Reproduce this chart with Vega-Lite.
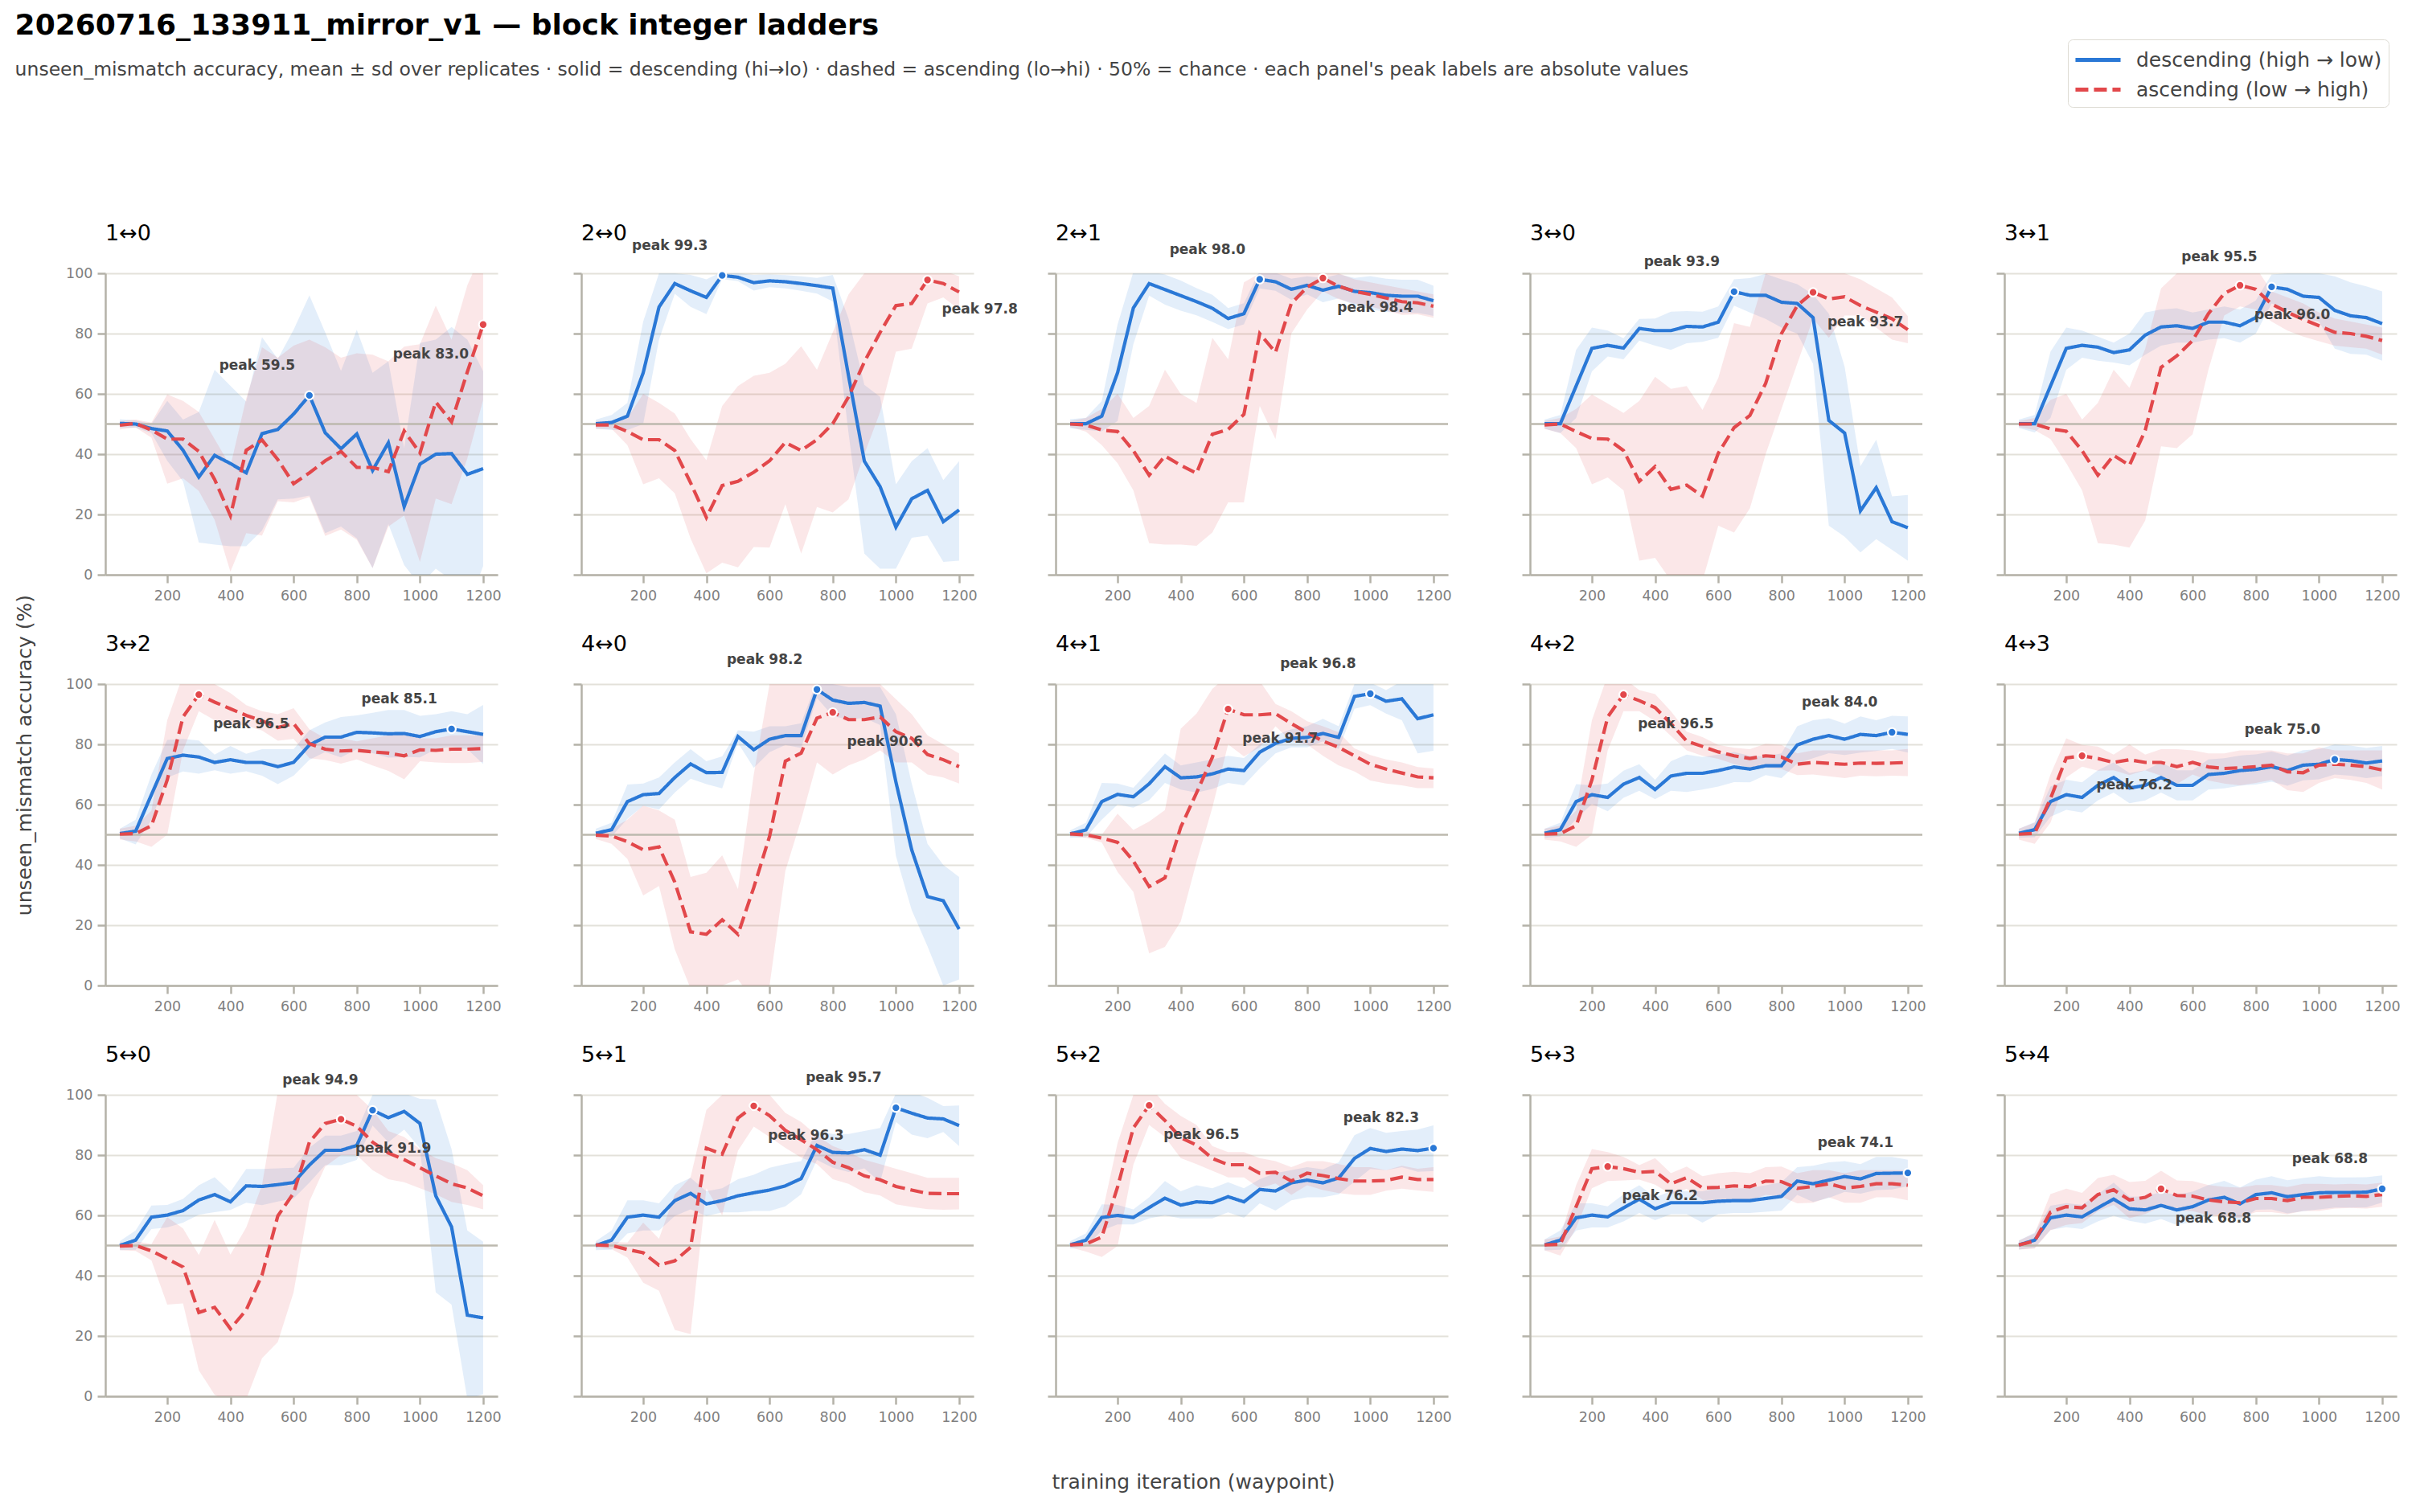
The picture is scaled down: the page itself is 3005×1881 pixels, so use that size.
{
  "$schema": "https://vega.github.io/schema/vega-lite/v6.json",
  "background": "white",
  "padding": {"left": 18, "top": 14, "right": 12, "bottom": 8},
  "title": {
    "text": "20260716_133911_mirror_v1 — block integer ladders",
    "subtitle": "unseen_mismatch accuracy, mean ± sd over replicates · solid = descending (hi→lo) · dashed = ascending (lo→hi) · 50% = chance · each panel's peak labels are absolute values",
    "anchor": "start",
    "frame": "bounds",
    "font": "DejaVu Sans",
    "fontSize": 36,
    "fontWeight": "bold",
    "color": "black",
    "subtitleFont": "DejaVu Sans",
    "subtitleFontSize": 23.5,
    "subtitleColor": "#444444",
    "subtitlePadding": 24,
    "offset": -51
  },
  "data": {
    "values": [
      {"p":"1↔0","d":"desc","x":50,"m":50.2,"lo":48.8,"hi":51.6},
      {"p":"1↔0","d":"desc","x":100,"m":50.0,"lo":48.8,"hi":51.2},
      {"p":"1↔0","d":"desc","x":150,"m":48.5,"lo":47.0,"hi":50.0},
      {"p":"1↔0","d":"desc","x":200,"m":47.7,"lo":37.8,"hi":57.7},
      {"p":"1↔0","d":"desc","x":250,"m":41.3,"lo":31.0,"hi":51.5},
      {"p":"1↔0","d":"desc","x":300,"m":32.4,"lo":10.7,"hi":54.0},
      {"p":"1↔0","d":"desc","x":350,"m":39.6,"lo":10.0,"hi":68.0},
      {"p":"1↔0","d":"desc","x":400,"m":36.9,"lo":9.5,"hi":62.7},
      {"p":"1↔0","d":"desc","x":450,"m":33.8,"lo":9.5,"hi":57.5},
      {"p":"1↔0","d":"desc","x":500,"m":46.8,"lo":14.7,"hi":78.8},
      {"p":"1↔0","d":"desc","x":550,"m":48.2,"lo":25.0,"hi":71.6},
      {"p":"1↔0","d":"desc","x":600,"m":53.3,"lo":25.3,"hi":81.3},
      {"p":"1↔0","d":"desc","x":650,"m":59.5,"lo":26.3,"hi":92.7},
      {"p":"1↔0","d":"desc","x":700,"m":47.1,"lo":13.8,"hi":80.4},
      {"p":"1↔0","d":"desc","x":750,"m":41.8,"lo":16.0,"hi":67.6},
      {"p":"1↔0","d":"desc","x":800,"m":46.7,"lo":12.1,"hi":81.3},
      {"p":"1↔0","d":"desc","x":850,"m":34.6,"lo":2.2,"hi":67.0},
      {"p":"1↔0","d":"desc","x":900,"m":43.8,"lo":16.8,"hi":70.8},
      {"p":"1↔0","d":"desc","x":950,"m":22.6,"lo":3.2,"hi":42.0},
      {"p":"1↔0","d":"desc","x":1000,"m":36.7,"lo":-3.5,"hi":76.9},
      {"p":"1↔0","d":"desc","x":1050,"m":40.0,"lo":2.0,"hi":78.0},
      {"p":"1↔0","d":"desc","x":1100,"m":40.2,"lo":-1.8,"hi":82.2},
      {"p":"1↔0","d":"desc","x":1150,"m":33.3,"lo":-11.4,"hi":78.0},
      {"p":"1↔0","d":"desc","x":1200,"m":35.2,"lo":2.9,"hi":67.5},
      {"p":"1↔0","d":"asc","x":50,"m":49.6,"lo":48.2,"hi":51.0},
      {"p":"1↔0","d":"asc","x":100,"m":50.2,"lo":48.9,"hi":51.5},
      {"p":"1↔0","d":"asc","x":150,"m":48.0,"lo":45.5,"hi":50.5},
      {"p":"1↔0","d":"asc","x":200,"m":45.0,"lo":30.2,"hi":59.8},
      {"p":"1↔0","d":"asc","x":250,"m":45.0,"lo":32.0,"hi":57.7},
      {"p":"1↔0","d":"asc","x":300,"m":40.9,"lo":27.8,"hi":54.0},
      {"p":"1↔0","d":"asc","x":350,"m":31.6,"lo":18.2,"hi":45.0},
      {"p":"1↔0","d":"asc","x":400,"m":19.6,"lo":1.0,"hi":36.0},
      {"p":"1↔0","d":"asc","x":450,"m":41.3,"lo":13.8,"hi":58.5},
      {"p":"1↔0","d":"asc","x":500,"m":44.7,"lo":13.0,"hi":75.5},
      {"p":"1↔0","d":"asc","x":550,"m":38.2,"lo":24.4,"hi":72.0},
      {"p":"1↔0","d":"asc","x":600,"m":30.2,"lo":24.0,"hi":76.0},
      {"p":"1↔0","d":"asc","x":650,"m":33.8,"lo":25.8,"hi":78.0},
      {"p":"1↔0","d":"asc","x":700,"m":37.8,"lo":12.9,"hi":75.5},
      {"p":"1↔0","d":"asc","x":750,"m":40.9,"lo":15.0,"hi":72.0},
      {"p":"1↔0","d":"asc","x":800,"m":35.6,"lo":11.6,"hi":73.5},
      {"p":"1↔0","d":"asc","x":850,"m":35.6,"lo":2.2,"hi":73.0},
      {"p":"1↔0","d":"asc","x":900,"m":34.2,"lo":16.0,"hi":70.8},
      {"p":"1↔0","d":"asc","x":950,"m":47.7,"lo":19.7,"hi":75.7},
      {"p":"1↔0","d":"asc","x":1000,"m":40.4,"lo":4.3,"hi":76.5},
      {"p":"1↔0","d":"asc","x":1050,"m":57.3,"lo":25.3,"hi":89.3},
      {"p":"1↔0","d":"asc","x":1100,"m":50.7,"lo":23.4,"hi":78.0},
      {"p":"1↔0","d":"asc","x":1150,"m":67.3,"lo":38.6,"hi":96.0},
      {"p":"1↔0","d":"asc","x":1200,"m":83.0,"lo":58.0,"hi":108.0},

      {"p":"2↔0","d":"desc","x":50,"m":50.1,"lo":48.5,"hi":51.5},
      {"p":"2↔0","d":"desc","x":100,"m":50.5,"lo":48.0,"hi":53.0},
      {"p":"2↔0","d":"desc","x":150,"m":52.6,"lo":48.0,"hi":57.0},
      {"p":"2↔0","d":"desc","x":200,"m":67.0,"lo":50.0,"hi":84.0},
      {"p":"2↔0","d":"desc","x":250,"m":88.8,"lo":78.0,"hi":100.0},
      {"p":"2↔0","d":"desc","x":300,"m":96.6,"lo":93.2,"hi":100.0},
      {"p":"2↔0","d":"desc","x":350,"m":94.2,"lo":88.9,"hi":99.5},
      {"p":"2↔0","d":"desc","x":400,"m":92.0,"lo":86.5,"hi":98.0},
      {"p":"2↔0","d":"desc","x":450,"m":99.3,"lo":98.1,"hi":100.5},
      {"p":"2↔0","d":"desc","x":500,"m":98.7,"lo":97.4,"hi":100.0},
      {"p":"2↔0","d":"desc","x":550,"m":96.9,"lo":94.3,"hi":99.5},
      {"p":"2↔0","d":"desc","x":600,"m":97.5,"lo":95.4,"hi":99.6},
      {"p":"2↔0","d":"desc","x":650,"m":97.2,"lo":95.0,"hi":99.4},
      {"p":"2↔0","d":"desc","x":700,"m":96.6,"lo":94.2,"hi":99.0},
      {"p":"2↔0","d":"desc","x":750,"m":95.9,"lo":93.3,"hi":98.5},
      {"p":"2↔0","d":"desc","x":800,"m":95.1,"lo":90.7,"hi":99.5},
      {"p":"2↔0","d":"desc","x":850,"m":66.0,"lo":47.0,"hi":85.0},
      {"p":"2↔0","d":"desc","x":900,"m":37.7,"lo":7.0,"hi":63.0},
      {"p":"2↔0","d":"desc","x":950,"m":29.2,"lo":2.0,"hi":59.0},
      {"p":"2↔0","d":"desc","x":1000,"m":15.8,"lo":2.0,"hi":30.0},
      {"p":"2↔0","d":"desc","x":1050,"m":25.2,"lo":12.3,"hi":37.7},
      {"p":"2↔0","d":"desc","x":1100,"m":28.0,"lo":13.0,"hi":42.0},
      {"p":"2↔0","d":"desc","x":1150,"m":17.6,"lo":4.3,"hi":31.4},
      {"p":"2↔0","d":"desc","x":1200,"m":21.5,"lo":4.7,"hi":37.7},
      {"p":"2↔0","d":"asc","x":50,"m":49.7,"lo":48.4,"hi":51.0},
      {"p":"2↔0","d":"asc","x":100,"m":49.7,"lo":48.4,"hi":51.0},
      {"p":"2↔0","d":"asc","x":150,"m":47.5,"lo":43.0,"hi":52.0},
      {"p":"2↔0","d":"asc","x":200,"m":44.8,"lo":30.0,"hi":60.0},
      {"p":"2↔0","d":"asc","x":250,"m":44.8,"lo":32.0,"hi":57.0},
      {"p":"2↔0","d":"asc","x":300,"m":41.2,"lo":27.0,"hi":53.5},
      {"p":"2↔0","d":"asc","x":350,"m":30.5,"lo":12.0,"hi":45.0},
      {"p":"2↔0","d":"asc","x":400,"m":19.0,"lo":0.5,"hi":38.0},
      {"p":"2↔0","d":"asc","x":450,"m":29.6,"lo":4.0,"hi":56.0},
      {"p":"2↔0","d":"asc","x":500,"m":31.0,"lo":2.5,"hi":62.6},
      {"p":"2↔0","d":"asc","x":550,"m":34.0,"lo":9.2,"hi":66.0},
      {"p":"2↔0","d":"asc","x":600,"m":37.8,"lo":9.0,"hi":67.0},
      {"p":"2↔0","d":"asc","x":650,"m":43.9,"lo":23.4,"hi":70.0},
      {"p":"2↔0","d":"asc","x":700,"m":41.2,"lo":7.0,"hi":75.8},
      {"p":"2↔0","d":"asc","x":750,"m":44.8,"lo":22.5,"hi":68.0},
      {"p":"2↔0","d":"asc","x":800,"m":50.1,"lo":20.7,"hi":80.4},
      {"p":"2↔0","d":"asc","x":850,"m":59.0,"lo":25.0,"hi":93.0},
      {"p":"2↔0","d":"asc","x":900,"m":70.6,"lo":40.0,"hi":100.0},
      {"p":"2↔0","d":"asc","x":950,"m":80.4,"lo":54.0,"hi":104.0},
      {"p":"2↔0","d":"asc","x":1000,"m":89.3,"lo":74.0,"hi":104.0},
      {"p":"2↔0","d":"asc","x":1050,"m":90.0,"lo":75.0,"hi":104.0},
      {"p":"2↔0","d":"asc","x":1100,"m":97.8,"lo":90.0,"hi":103.0},
      {"p":"2↔0","d":"asc","x":1150,"m":96.6,"lo":92.0,"hi":101.0},
      {"p":"2↔0","d":"asc","x":1200,"m":93.8,"lo":88.0,"hi":99.0},

      {"p":"2↔1","d":"desc","x":50,"m":50.1,"lo":48.6,"hi":51.6},
      {"p":"2↔1","d":"desc","x":100,"m":50.1,"lo":48.1,"hi":52.1},
      {"p":"2↔1","d":"desc","x":150,"m":52.6,"lo":47.6,"hi":57.6},
      {"p":"2↔1","d":"desc","x":200,"m":67.0,"lo":51.0,"hi":83.0},
      {"p":"2↔1","d":"desc","x":250,"m":88.5,"lo":76.5,"hi":100.5},
      {"p":"2↔1","d":"desc","x":300,"m":96.6,"lo":92.6,"hi":100.6},
      {"p":"2↔1","d":"desc","x":350,"m":94.6,"lo":89.6,"hi":99.6},
      {"p":"2↔1","d":"desc","x":400,"m":92.6,"lo":87.6,"hi":97.6},
      {"p":"2↔1","d":"desc","x":450,"m":90.6,"lo":86.1,"hi":95.1},
      {"p":"2↔1","d":"desc","x":500,"m":88.4,"lo":83.9,"hi":92.9},
      {"p":"2↔1","d":"desc","x":550,"m":85.0,"lo":81.5,"hi":88.5},
      {"p":"2↔1","d":"desc","x":600,"m":86.6,"lo":83.1,"hi":90.1},
      {"p":"2↔1","d":"desc","x":650,"m":98.0,"lo":95.0,"hi":101.0},
      {"p":"2↔1","d":"desc","x":700,"m":97.2,"lo":94.2,"hi":100.2},
      {"p":"2↔1","d":"desc","x":750,"m":94.7,"lo":91.2,"hi":98.2},
      {"p":"2↔1","d":"desc","x":800,"m":96.0,"lo":93.0,"hi":99.0},
      {"p":"2↔1","d":"desc","x":850,"m":94.4,"lo":90.4,"hi":98.4},
      {"p":"2↔1","d":"desc","x":900,"m":95.7,"lo":91.7,"hi":99.7},
      {"p":"2↔1","d":"desc","x":950,"m":94.0,"lo":89.5,"hi":98.5},
      {"p":"2↔1","d":"desc","x":1000,"m":93.6,"lo":88.1,"hi":99.1},
      {"p":"2↔1","d":"desc","x":1050,"m":92.7,"lo":87.2,"hi":98.2},
      {"p":"2↔1","d":"desc","x":1100,"m":92.4,"lo":86.9,"hi":97.9},
      {"p":"2↔1","d":"desc","x":1150,"m":92.4,"lo":86.9,"hi":97.9},
      {"p":"2↔1","d":"desc","x":1200,"m":90.9,"lo":85.9,"hi":95.9},
      {"p":"2↔1","d":"asc","x":50,"m":50.0,"lo":49.0,"hi":51.0},
      {"p":"2↔1","d":"asc","x":100,"m":49.7,"lo":47.5,"hi":52.0},
      {"p":"2↔1","d":"asc","x":150,"m":48.0,"lo":43.0,"hi":55.0},
      {"p":"2↔1","d":"asc","x":200,"m":47.5,"lo":37.0,"hi":60.0},
      {"p":"2↔1","d":"asc","x":250,"m":41.2,"lo":28.0,"hi":52.0},
      {"p":"2↔1","d":"asc","x":300,"m":33.0,"lo":10.5,"hi":56.0},
      {"p":"2↔1","d":"asc","x":350,"m":39.4,"lo":10.0,"hi":68.0},
      {"p":"2↔1","d":"asc","x":400,"m":36.3,"lo":10.0,"hi":60.0},
      {"p":"2↔1","d":"asc","x":450,"m":33.7,"lo":9.6,"hi":57.0},
      {"p":"2↔1","d":"asc","x":500,"m":46.6,"lo":14.0,"hi":78.6},
      {"p":"2↔1","d":"asc","x":550,"m":48.2,"lo":24.0,"hi":71.5},
      {"p":"2↔1","d":"asc","x":600,"m":53.2,"lo":24.0,"hi":97.0},
      {"p":"2↔1","d":"asc","x":650,"m":80.0,"lo":56.0,"hi":100.0},
      {"p":"2↔1","d":"asc","x":700,"m":73.8,"lo":45.0,"hi":100.0},
      {"p":"2↔1","d":"asc","x":750,"m":90.0,"lo":80.0,"hi":100.0},
      {"p":"2↔1","d":"asc","x":800,"m":95.4,"lo":88.0,"hi":100.0},
      {"p":"2↔1","d":"asc","x":850,"m":98.4,"lo":94.0,"hi":102.0},
      {"p":"2↔1","d":"asc","x":900,"m":95.7,"lo":91.4,"hi":100.0},
      {"p":"2↔1","d":"asc","x":950,"m":94.0,"lo":90.0,"hi":98.0},
      {"p":"2↔1","d":"asc","x":1000,"m":93.0,"lo":89.0,"hi":97.0},
      {"p":"2↔1","d":"asc","x":1050,"m":91.8,"lo":87.6,"hi":96.0},
      {"p":"2↔1","d":"asc","x":1100,"m":90.6,"lo":86.2,"hi":95.0},
      {"p":"2↔1","d":"asc","x":1150,"m":90.2,"lo":86.4,"hi":94.0},
      {"p":"2↔1","d":"asc","x":1200,"m":89.1,"lo":85.2,"hi":93.0},

      {"p":"3↔0","d":"desc","x":50,"m":50.1,"lo":48.5,"hi":51.5},
      {"p":"3↔0","d":"desc","x":100,"m":50.1,"lo":47.0,"hi":53.0},
      {"p":"3↔0","d":"desc","x":150,"m":62.6,"lo":52.0,"hi":74.6},
      {"p":"3↔0","d":"desc","x":200,"m":75.1,"lo":67.5,"hi":82.0},
      {"p":"3↔0","d":"desc","x":250,"m":76.1,"lo":72.4,"hi":81.0},
      {"p":"3↔0","d":"desc","x":300,"m":75.2,"lo":71.5,"hi":78.5},
      {"p":"3↔0","d":"desc","x":350,"m":81.7,"lo":77.7,"hi":84.9},
      {"p":"3↔0","d":"desc","x":400,"m":81.0,"lo":76.0,"hi":85.0},
      {"p":"3↔0","d":"desc","x":450,"m":81.0,"lo":74.6,"hi":87.3},
      {"p":"3↔0","d":"desc","x":500,"m":82.4,"lo":76.8,"hi":87.5},
      {"p":"3↔0","d":"desc","x":550,"m":82.2,"lo":77.3,"hi":87.3},
      {"p":"3↔0","d":"desc","x":600,"m":83.8,"lo":78.6,"hi":89.0},
      {"p":"3↔0","d":"desc","x":650,"m":93.9,"lo":89.3,"hi":98.0},
      {"p":"3↔0","d":"desc","x":700,"m":92.7,"lo":87.0,"hi":98.4},
      {"p":"3↔0","d":"desc","x":750,"m":92.7,"lo":84.9,"hi":99.8},
      {"p":"3↔0","d":"desc","x":800,"m":90.4,"lo":82.0,"hi":98.0},
      {"p":"3↔0","d":"desc","x":850,"m":90.0,"lo":80.0,"hi":96.4},
      {"p":"3↔0","d":"desc","x":900,"m":85.3,"lo":70.0,"hi":93.0},
      {"p":"3↔0","d":"desc","x":950,"m":51.2,"lo":16.3,"hi":86.6},
      {"p":"3↔0","d":"desc","x":1000,"m":47.0,"lo":12.6,"hi":69.0},
      {"p":"3↔0","d":"desc","x":1050,"m":21.2,"lo":7.4,"hi":36.0},
      {"p":"3↔0","d":"desc","x":1100,"m":28.9,"lo":11.8,"hi":44.8},
      {"p":"3↔0","d":"desc","x":1150,"m":17.6,"lo":8.3,"hi":26.0},
      {"p":"3↔0","d":"desc","x":1200,"m":15.6,"lo":4.7,"hi":26.5},
      {"p":"3↔0","d":"asc","x":50,"m":49.7,"lo":48.4,"hi":51.0},
      {"p":"3↔0","d":"asc","x":100,"m":50.0,"lo":47.0,"hi":52.0},
      {"p":"3↔0","d":"asc","x":150,"m":47.5,"lo":42.0,"hi":55.0},
      {"p":"3↔0","d":"asc","x":200,"m":45.2,"lo":30.0,"hi":59.8},
      {"p":"3↔0","d":"asc","x":250,"m":45.0,"lo":32.3,"hi":56.8},
      {"p":"3↔0","d":"asc","x":300,"m":41.2,"lo":28.0,"hi":53.7},
      {"p":"3↔0","d":"asc","x":350,"m":31.0,"lo":4.7,"hi":57.7},
      {"p":"3↔0","d":"asc","x":400,"m":35.9,"lo":5.6,"hi":65.7},
      {"p":"3↔0","d":"asc","x":450,"m":28.3,"lo":-2.0,"hi":61.7},
      {"p":"3↔0","d":"asc","x":500,"m":29.7,"lo":-2.0,"hi":62.6},
      {"p":"3↔0","d":"asc","x":550,"m":26.1,"lo":-2.0,"hi":54.7},
      {"p":"3↔0","d":"asc","x":600,"m":40.3,"lo":16.3,"hi":65.3},
      {"p":"3↔0","d":"asc","x":650,"m":48.8,"lo":14.0,"hi":83.5},
      {"p":"3↔0","d":"asc","x":700,"m":52.8,"lo":22.0,"hi":82.2},
      {"p":"3↔0","d":"asc","x":750,"m":63.5,"lo":40.0,"hi":100.0},
      {"p":"3↔0","d":"asc","x":800,"m":80.0,"lo":55.0,"hi":104.0},
      {"p":"3↔0","d":"asc","x":850,"m":89.3,"lo":70.0,"hi":104.0},
      {"p":"3↔0","d":"asc","x":900,"m":93.7,"lo":85.0,"hi":104.0},
      {"p":"3↔0","d":"asc","x":950,"m":91.5,"lo":78.6,"hi":104.0},
      {"p":"3↔0","d":"asc","x":1000,"m":92.2,"lo":86.0,"hi":100.0},
      {"p":"3↔0","d":"asc","x":1050,"m":89.3,"lo":86.0,"hi":98.0},
      {"p":"3↔0","d":"asc","x":1100,"m":87.1,"lo":82.0,"hi":95.0},
      {"p":"3↔0","d":"asc","x":1150,"m":84.9,"lo":78.0,"hi":92.0},
      {"p":"3↔0","d":"asc","x":1200,"m":81.3,"lo":76.8,"hi":85.8},

      {"p":"3↔1","d":"desc","x":50,"m":50.1,"lo":48.7,"hi":51.5},
      {"p":"3↔1","d":"desc","x":100,"m":50.1,"lo":47.2,"hi":53.0},
      {"p":"3↔1","d":"desc","x":150,"m":62.6,"lo":52.0,"hi":74.0},
      {"p":"3↔1","d":"desc","x":200,"m":75.1,"lo":68.0,"hi":82.0},
      {"p":"3↔1","d":"desc","x":250,"m":76.1,"lo":72.0,"hi":81.0},
      {"p":"3↔1","d":"desc","x":300,"m":75.5,"lo":71.0,"hi":79.0},
      {"p":"3↔1","d":"desc","x":350,"m":73.7,"lo":70.4,"hi":77.0},
      {"p":"3↔1","d":"desc","x":400,"m":74.6,"lo":69.5,"hi":80.0},
      {"p":"3↔1","d":"desc","x":450,"m":79.5,"lo":73.0,"hi":87.0},
      {"p":"3↔1","d":"desc","x":500,"m":82.2,"lo":76.0,"hi":88.0},
      {"p":"3↔1","d":"desc","x":550,"m":82.6,"lo":77.0,"hi":88.4},
      {"p":"3↔1","d":"desc","x":600,"m":81.7,"lo":77.0,"hi":87.0},
      {"p":"3↔1","d":"desc","x":650,"m":83.8,"lo":78.0,"hi":88.0},
      {"p":"3↔1","d":"desc","x":700,"m":83.8,"lo":78.5,"hi":89.0},
      {"p":"3↔1","d":"desc","x":750,"m":82.6,"lo":77.0,"hi":88.0},
      {"p":"3↔1","d":"desc","x":800,"m":85.3,"lo":80.0,"hi":91.0},
      {"p":"3↔1","d":"desc","x":850,"m":95.5,"lo":90.0,"hi":99.6},
      {"p":"3↔1","d":"desc","x":900,"m":94.7,"lo":88.0,"hi":100.0},
      {"p":"3↔1","d":"desc","x":950,"m":92.4,"lo":85.0,"hi":100.0},
      {"p":"3↔1","d":"desc","x":1000,"m":92.0,"lo":84.0,"hi":100.0},
      {"p":"3↔1","d":"desc","x":1050,"m":87.7,"lo":75.0,"hi":99.0},
      {"p":"3↔1","d":"desc","x":1100,"m":85.9,"lo":73.3,"hi":97.0},
      {"p":"3↔1","d":"desc","x":1150,"m":85.3,"lo":73.0,"hi":95.7},
      {"p":"3↔1","d":"desc","x":1200,"m":83.3,"lo":71.0,"hi":94.0},
      {"p":"3↔1","d":"asc","x":50,"m":50.0,"lo":49.0,"hi":51.0},
      {"p":"3↔1","d":"asc","x":100,"m":50.0,"lo":48.0,"hi":52.0},
      {"p":"3↔1","d":"asc","x":150,"m":48.4,"lo":45.0,"hi":58.0},
      {"p":"3↔1","d":"asc","x":200,"m":47.6,"lo":37.0,"hi":60.0},
      {"p":"3↔1","d":"asc","x":250,"m":41.2,"lo":28.0,"hi":51.5},
      {"p":"3↔1","d":"asc","x":300,"m":33.0,"lo":10.5,"hi":57.0},
      {"p":"3↔1","d":"asc","x":350,"m":39.6,"lo":10.0,"hi":68.0},
      {"p":"3↔1","d":"asc","x":400,"m":36.3,"lo":9.0,"hi":62.0},
      {"p":"3↔1","d":"asc","x":450,"m":47.9,"lo":18.0,"hi":75.0},
      {"p":"3↔1","d":"asc","x":500,"m":68.8,"lo":42.6,"hi":95.0},
      {"p":"3↔1","d":"asc","x":550,"m":72.6,"lo":42.0,"hi":100.0},
      {"p":"3↔1","d":"asc","x":600,"m":77.7,"lo":46.6,"hi":104.0},
      {"p":"3↔1","d":"asc","x":650,"m":86.6,"lo":68.0,"hi":104.0},
      {"p":"3↔1","d":"asc","x":700,"m":93.3,"lo":86.0,"hi":104.0},
      {"p":"3↔1","d":"asc","x":750,"m":96.0,"lo":89.0,"hi":104.0},
      {"p":"3↔1","d":"asc","x":800,"m":94.7,"lo":88.0,"hi":102.0},
      {"p":"3↔1","d":"asc","x":850,"m":89.8,"lo":84.0,"hi":94.0},
      {"p":"3↔1","d":"asc","x":900,"m":87.1,"lo":81.0,"hi":92.0},
      {"p":"3↔1","d":"asc","x":950,"m":84.7,"lo":79.0,"hi":90.0},
      {"p":"3↔1","d":"asc","x":1000,"m":82.6,"lo":77.5,"hi":87.0},
      {"p":"3↔1","d":"asc","x":1050,"m":80.4,"lo":76.0,"hi":85.0},
      {"p":"3↔1","d":"asc","x":1100,"m":80.0,"lo":75.5,"hi":84.0},
      {"p":"3↔1","d":"asc","x":1150,"m":79.1,"lo":75.0,"hi":83.0},
      {"p":"3↔1","d":"asc","x":1200,"m":77.7,"lo":73.0,"hi":82.0},

      {"p":"3↔2","d":"desc","x":50,"m":50.4,"lo":48.8,"hi":52.0},
      {"p":"3↔2","d":"desc","x":100,"m":51.2,"lo":46.8,"hi":55.0},
      {"p":"3↔2","d":"desc","x":150,"m":63.3,"lo":55.0,"hi":70.0},
      {"p":"3↔2","d":"desc","x":200,"m":75.3,"lo":69.0,"hi":81.5},
      {"p":"3↔2","d":"desc","x":250,"m":76.4,"lo":71.0,"hi":81.8},
      {"p":"3↔2","d":"desc","x":300,"m":75.8,"lo":70.3,"hi":81.3},
      {"p":"3↔2","d":"desc","x":350,"m":74.0,"lo":71.4,"hi":76.6},
      {"p":"3↔2","d":"desc","x":400,"m":74.9,"lo":70.3,"hi":79.5},
      {"p":"3↔2","d":"desc","x":450,"m":74.0,"lo":71.1,"hi":76.9},
      {"p":"3↔2","d":"desc","x":500,"m":74.0,"lo":69.6,"hi":78.4},
      {"p":"3↔2","d":"desc","x":550,"m":72.6,"lo":66.8,"hi":78.4},
      {"p":"3↔2","d":"desc","x":600,"m":74.0,"lo":69.6,"hi":78.4},
      {"p":"3↔2","d":"desc","x":650,"m":79.8,"lo":74.9,"hi":84.7},
      {"p":"3↔2","d":"desc","x":700,"m":82.4,"lo":77.5,"hi":87.3},
      {"p":"3↔2","d":"desc","x":750,"m":82.4,"lo":75.7,"hi":89.1},
      {"p":"3↔2","d":"desc","x":800,"m":84.0,"lo":78.4,"hi":89.6},
      {"p":"3↔2","d":"desc","x":850,"m":83.8,"lo":77.1,"hi":90.5},
      {"p":"3↔2","d":"desc","x":900,"m":83.5,"lo":75.6,"hi":91.4},
      {"p":"3↔2","d":"desc","x":950,"m":83.6,"lo":75.8,"hi":91.4},
      {"p":"3↔2","d":"desc","x":1000,"m":82.6,"lo":75.7,"hi":89.5},
      {"p":"3↔2","d":"desc","x":1050,"m":84.2,"lo":78.4,"hi":90.0},
      {"p":"3↔2","d":"desc","x":1100,"m":85.1,"lo":79.2,"hi":91.0},
      {"p":"3↔2","d":"desc","x":1150,"m":84.2,"lo":78.4,"hi":90.0},
      {"p":"3↔2","d":"desc","x":1200,"m":83.3,"lo":73.5,"hi":93.1},
      {"p":"3↔2","d":"asc","x":50,"m":50.2,"lo":48.4,"hi":52.0},
      {"p":"3↔2","d":"asc","x":100,"m":50.4,"lo":47.8,"hi":53.0},
      {"p":"3↔2","d":"asc","x":150,"m":53.0,"lo":46.0,"hi":58.0},
      {"p":"3↔2","d":"asc","x":200,"m":68.2,"lo":50.0,"hi":88.0},
      {"p":"3↔2","d":"asc","x":250,"m":89.1,"lo":78.0,"hi":103.0},
      {"p":"3↔2","d":"asc","x":300,"m":96.5,"lo":91.0,"hi":102.0},
      {"p":"3↔2","d":"asc","x":350,"m":94.0,"lo":88.0,"hi":100.0},
      {"p":"3↔2","d":"asc","x":400,"m":91.8,"lo":86.6,"hi":97.0},
      {"p":"3↔2","d":"asc","x":450,"m":89.6,"lo":86.2,"hi":93.0},
      {"p":"3↔2","d":"asc","x":500,"m":87.8,"lo":84.6,"hi":91.0},
      {"p":"3↔2","d":"asc","x":550,"m":85.6,"lo":81.2,"hi":90.0},
      {"p":"3↔2","d":"asc","x":600,"m":86.9,"lo":81.8,"hi":92.0},
      {"p":"3↔2","d":"asc","x":650,"m":80.2,"lo":75.4,"hi":85.0},
      {"p":"3↔2","d":"asc","x":700,"m":78.4,"lo":74.8,"hi":82.0},
      {"p":"3↔2","d":"asc","x":750,"m":77.8,"lo":73.6,"hi":82.0},
      {"p":"3↔2","d":"asc","x":800,"m":78.0,"lo":75.0,"hi":81.0},
      {"p":"3↔2","d":"asc","x":850,"m":77.5,"lo":73.0,"hi":82.0},
      {"p":"3↔2","d":"asc","x":900,"m":77.1,"lo":71.2,"hi":83.0},
      {"p":"3↔2","d":"asc","x":950,"m":76.2,"lo":68.4,"hi":84.0},
      {"p":"3↔2","d":"asc","x":1000,"m":78.2,"lo":74.4,"hi":82.0},
      {"p":"3↔2","d":"asc","x":1050,"m":78.0,"lo":74.0,"hi":82.0},
      {"p":"3↔2","d":"asc","x":1100,"m":78.4,"lo":73.8,"hi":83.0},
      {"p":"3↔2","d":"asc","x":1150,"m":78.4,"lo":73.8,"hi":83.0},
      {"p":"3↔2","d":"asc","x":1200,"m":78.6,"lo":74.2,"hi":83.0},

      {"p":"4↔0","d":"desc","x":50,"m":50.5,"lo":49.0,"hi":52.0},
      {"p":"4↔0","d":"desc","x":100,"m":51.7,"lo":49.4,"hi":54.0},
      {"p":"4↔0","d":"desc","x":150,"m":61.0,"lo":55.3,"hi":66.7},
      {"p":"4↔0","d":"desc","x":200,"m":63.3,"lo":59.6,"hi":67.0},
      {"p":"4↔0","d":"desc","x":250,"m":63.7,"lo":58.4,"hi":69.0},
      {"p":"4↔0","d":"desc","x":300,"m":69.0,"lo":64.0,"hi":74.0},
      {"p":"4↔0","d":"desc","x":350,"m":73.5,"lo":68.6,"hi":78.4},
      {"p":"4↔0","d":"desc","x":400,"m":70.6,"lo":66.8,"hi":74.4},
      {"p":"4↔0","d":"desc","x":450,"m":70.7,"lo":65.4,"hi":76.0},
      {"p":"4↔0","d":"desc","x":500,"m":82.6,"lo":80.5,"hi":84.7},
      {"p":"4↔0","d":"desc","x":550,"m":78.2,"lo":72.2,"hi":84.2},
      {"p":"4↔0","d":"desc","x":600,"m":81.7,"lo":77.4,"hi":86.0},
      {"p":"4↔0","d":"desc","x":650,"m":82.9,"lo":79.8,"hi":86.0},
      {"p":"4↔0","d":"desc","x":700,"m":82.9,"lo":78.8,"hi":87.0},
      {"p":"4↔0","d":"desc","x":750,"m":98.2,"lo":95.4,"hi":101.0},
      {"p":"4↔0","d":"desc","x":800,"m":94.7,"lo":89.4,"hi":100.0},
      {"p":"4↔0","d":"desc","x":850,"m":93.6,"lo":88.2,"hi":99.0},
      {"p":"4↔0","d":"desc","x":900,"m":93.9,"lo":88.8,"hi":99.0},
      {"p":"4↔0","d":"desc","x":950,"m":92.7,"lo":86.4,"hi":99.0},
      {"p":"4↔0","d":"desc","x":1000,"m":67.5,"lo":43.0,"hi":90.0},
      {"p":"4↔0","d":"desc","x":1050,"m":45.0,"lo":25.0,"hi":67.0},
      {"p":"4↔0","d":"desc","x":1100,"m":29.5,"lo":13.0,"hi":47.0},
      {"p":"4↔0","d":"desc","x":1150,"m":28.1,"lo":0.0,"hi":40.0},
      {"p":"4↔0","d":"desc","x":1200,"m":18.7,"lo":2.0,"hi":36.0},
      {"p":"4↔0","d":"asc","x":50,"m":49.9,"lo":48.6,"hi":51.0},
      {"p":"4↔0","d":"asc","x":100,"m":49.6,"lo":47.0,"hi":52.0},
      {"p":"4↔0","d":"asc","x":150,"m":47.7,"lo":42.0,"hi":55.0},
      {"p":"4↔0","d":"asc","x":200,"m":45.0,"lo":29.9,"hi":59.7},
      {"p":"4↔0","d":"asc","x":250,"m":46.0,"lo":33.0,"hi":58.1},
      {"p":"4↔0","d":"asc","x":300,"m":34.3,"lo":12.0,"hi":55.0},
      {"p":"4↔0","d":"asc","x":350,"m":17.8,"lo":-1.0,"hi":36.0},
      {"p":"4↔0","d":"asc","x":400,"m":17.0,"lo":-3.0,"hi":37.4},
      {"p":"4↔0","d":"asc","x":450,"m":21.8,"lo":0.0,"hi":43.2},
      {"p":"4↔0","d":"asc","x":500,"m":17.0,"lo":2.0,"hi":32.0},
      {"p":"4↔0","d":"asc","x":550,"m":32.5,"lo":-5.0,"hi":70.0},
      {"p":"4↔0","d":"asc","x":600,"m":49.5,"lo":0.0,"hi":100.0},
      {"p":"4↔0","d":"asc","x":650,"m":74.4,"lo":38.0,"hi":104.0},
      {"p":"4↔0","d":"asc","x":700,"m":77.1,"lo":55.0,"hi":104.0},
      {"p":"4↔0","d":"asc","x":750,"m":88.7,"lo":74.0,"hi":104.0},
      {"p":"4↔0","d":"asc","x":800,"m":90.6,"lo":70.0,"hi":104.0},
      {"p":"4↔0","d":"asc","x":850,"m":88.2,"lo":73.0,"hi":102.0},
      {"p":"4↔0","d":"asc","x":900,"m":88.2,"lo":75.0,"hi":101.0},
      {"p":"4↔0","d":"asc","x":950,"m":89.1,"lo":78.0,"hi":100.0},
      {"p":"4↔0","d":"asc","x":1000,"m":84.2,"lo":74.0,"hi":95.0},
      {"p":"4↔0","d":"asc","x":1050,"m":82.0,"lo":74.0,"hi":90.0},
      {"p":"4↔0","d":"asc","x":1100,"m":76.6,"lo":70.0,"hi":83.0},
      {"p":"4↔0","d":"asc","x":1150,"m":74.9,"lo":69.0,"hi":80.0},
      {"p":"4↔0","d":"asc","x":1200,"m":72.6,"lo":67.0,"hi":77.0},

      {"p":"4↔1","d":"desc","x":50,"m":50.3,"lo":49.0,"hi":51.5},
      {"p":"4↔1","d":"desc","x":100,"m":51.6,"lo":49.2,"hi":54.0},
      {"p":"4↔1","d":"desc","x":150,"m":61.0,"lo":55.0,"hi":67.2},
      {"p":"4↔1","d":"desc","x":200,"m":63.4,"lo":60.0,"hi":67.0},
      {"p":"4↔1","d":"desc","x":250,"m":62.6,"lo":59.0,"hi":65.6},
      {"p":"4↔1","d":"desc","x":300,"m":66.9,"lo":61.5,"hi":71.3},
      {"p":"4↔1","d":"desc","x":350,"m":72.6,"lo":67.2,"hi":77.0},
      {"p":"4↔1","d":"desc","x":400,"m":68.9,"lo":65.0,"hi":73.0},
      {"p":"4↔1","d":"desc","x":450,"m":69.2,"lo":64.0,"hi":74.0},
      {"p":"4↔1","d":"desc","x":500,"m":70.2,"lo":65.2,"hi":75.0},
      {"p":"4↔1","d":"desc","x":550,"m":71.8,"lo":67.2,"hi":76.2},
      {"p":"4↔1","d":"desc","x":600,"m":71.3,"lo":66.4,"hi":75.5},
      {"p":"4↔1","d":"desc","x":650,"m":77.4,"lo":72.0,"hi":80.0},
      {"p":"4↔1","d":"desc","x":700,"m":80.3,"lo":77.0,"hi":83.0},
      {"p":"4↔1","d":"desc","x":750,"m":82.0,"lo":79.0,"hi":85.0},
      {"p":"4↔1","d":"desc","x":800,"m":82.3,"lo":79.0,"hi":86.0},
      {"p":"4↔1","d":"desc","x":850,"m":83.6,"lo":81.0,"hi":88.5},
      {"p":"4↔1","d":"desc","x":900,"m":82.3,"lo":78.5,"hi":86.0},
      {"p":"4↔1","d":"desc","x":950,"m":95.9,"lo":91.8,"hi":100.0},
      {"p":"4↔1","d":"desc","x":1000,"m":96.8,"lo":93.0,"hi":100.5},
      {"p":"4↔1","d":"desc","x":1050,"m":94.3,"lo":90.2,"hi":98.0},
      {"p":"4↔1","d":"desc","x":1100,"m":95.1,"lo":88.0,"hi":101.0},
      {"p":"4↔1","d":"desc","x":1150,"m":88.5,"lo":77.0,"hi":100.0},
      {"p":"4↔1","d":"desc","x":1200,"m":89.8,"lo":77.9,"hi":101.0},
      {"p":"4↔1","d":"asc","x":50,"m":50.3,"lo":49.5,"hi":51.0},
      {"p":"4↔1","d":"asc","x":100,"m":50.0,"lo":49.0,"hi":51.0},
      {"p":"4↔1","d":"asc","x":150,"m":48.9,"lo":47.5,"hi":50.0},
      {"p":"4↔1","d":"asc","x":200,"m":47.5,"lo":37.7,"hi":57.0},
      {"p":"4↔1","d":"asc","x":250,"m":41.3,"lo":31.1,"hi":51.6},
      {"p":"4↔1","d":"asc","x":300,"m":32.8,"lo":10.7,"hi":54.4},
      {"p":"4↔1","d":"asc","x":350,"m":35.7,"lo":12.8,"hi":58.2},
      {"p":"4↔1","d":"asc","x":400,"m":52.5,"lo":21.3,"hi":85.2},
      {"p":"4↔1","d":"asc","x":450,"m":63.9,"lo":41.0,"hi":90.2},
      {"p":"4↔1","d":"asc","x":500,"m":75.7,"lo":59.0,"hi":98.4},
      {"p":"4↔1","d":"asc","x":550,"m":91.7,"lo":80.0,"hi":103.0},
      {"p":"4↔1","d":"asc","x":600,"m":89.8,"lo":76.0,"hi":103.0},
      {"p":"4↔1","d":"asc","x":650,"m":89.8,"lo":79.0,"hi":101.0},
      {"p":"4↔1","d":"asc","x":700,"m":90.2,"lo":86.0,"hi":93.4},
      {"p":"4↔1","d":"asc","x":750,"m":86.9,"lo":81.0,"hi":91.0},
      {"p":"4↔1","d":"asc","x":800,"m":83.9,"lo":80.0,"hi":87.7},
      {"p":"4↔1","d":"asc","x":850,"m":81.1,"lo":76.2,"hi":86.0},
      {"p":"4↔1","d":"asc","x":900,"m":79.0,"lo":73.0,"hi":84.0},
      {"p":"4↔1","d":"asc","x":950,"m":76.2,"lo":71.0,"hi":78.7},
      {"p":"4↔1","d":"asc","x":1000,"m":73.4,"lo":68.0,"hi":76.5},
      {"p":"4↔1","d":"asc","x":1050,"m":71.8,"lo":67.0,"hi":75.0},
      {"p":"4↔1","d":"asc","x":1100,"m":70.5,"lo":66.4,"hi":74.0},
      {"p":"4↔1","d":"asc","x":1150,"m":69.2,"lo":65.5,"hi":72.5},
      {"p":"4↔1","d":"asc","x":1200,"m":68.9,"lo":65.5,"hi":72.0},

      {"p":"4↔2","d":"desc","x":50,"m":50.5,"lo":49.0,"hi":52.0},
      {"p":"4↔2","d":"desc","x":100,"m":51.7,"lo":49.4,"hi":54.0},
      {"p":"4↔2","d":"desc","x":150,"m":61.0,"lo":55.2,"hi":66.8},
      {"p":"4↔2","d":"desc","x":200,"m":63.3,"lo":60.2,"hi":66.4},
      {"p":"4↔2","d":"desc","x":250,"m":62.4,"lo":57.8,"hi":67.0},
      {"p":"4↔2","d":"desc","x":300,"m":66.8,"lo":62.3,"hi":71.3},
      {"p":"4↔2","d":"desc","x":350,"m":69.0,"lo":64.6,"hi":73.4},
      {"p":"4↔2","d":"desc","x":400,"m":65.0,"lo":61.8,"hi":68.2},
      {"p":"4↔2","d":"desc","x":450,"m":69.5,"lo":64.6,"hi":74.4},
      {"p":"4↔2","d":"desc","x":500,"m":70.4,"lo":64.2,"hi":76.6},
      {"p":"4↔2","d":"desc","x":550,"m":70.4,"lo":65.0,"hi":75.8},
      {"p":"4↔2","d":"desc","x":600,"m":71.3,"lo":66.0,"hi":76.6},
      {"p":"4↔2","d":"desc","x":650,"m":72.5,"lo":67.5,"hi":77.5},
      {"p":"4↔2","d":"desc","x":700,"m":71.8,"lo":67.4,"hi":76.2},
      {"p":"4↔2","d":"desc","x":750,"m":72.9,"lo":69.8,"hi":76.0},
      {"p":"4↔2","d":"desc","x":800,"m":72.9,"lo":68.8,"hi":77.0},
      {"p":"4↔2","d":"desc","x":850,"m":79.8,"lo":73.6,"hi":86.0},
      {"p":"4↔2","d":"desc","x":900,"m":81.7,"lo":75.4,"hi":88.0},
      {"p":"4↔2","d":"desc","x":950,"m":82.9,"lo":77.1,"hi":88.7},
      {"p":"4↔2","d":"desc","x":1000,"m":81.7,"lo":76.5,"hi":86.9},
      {"p":"4↔2","d":"desc","x":1050,"m":83.3,"lo":77.3,"hi":89.3},
      {"p":"4↔2","d":"desc","x":1100,"m":82.9,"lo":77.8,"hi":88.0},
      {"p":"4↔2","d":"desc","x":1150,"m":84.0,"lo":78.5,"hi":89.5},
      {"p":"4↔2","d":"desc","x":1200,"m":83.3,"lo":77.3,"hi":89.3},
      {"p":"4↔2","d":"asc","x":50,"m":50.2,"lo":48.4,"hi":52.0},
      {"p":"4↔2","d":"asc","x":100,"m":50.4,"lo":47.8,"hi":53.0},
      {"p":"4↔2","d":"asc","x":150,"m":53.0,"lo":46.0,"hi":58.0},
      {"p":"4↔2","d":"asc","x":200,"m":68.2,"lo":50.0,"hi":88.0},
      {"p":"4↔2","d":"asc","x":250,"m":89.1,"lo":78.0,"hi":103.0},
      {"p":"4↔2","d":"asc","x":300,"m":96.5,"lo":91.0,"hi":102.0},
      {"p":"4↔2","d":"asc","x":350,"m":94.5,"lo":91.0,"hi":98.0},
      {"p":"4↔2","d":"asc","x":400,"m":92.2,"lo":87.7,"hi":96.7},
      {"p":"4↔2","d":"asc","x":450,"m":86.9,"lo":82.8,"hi":91.0},
      {"p":"4↔2","d":"asc","x":500,"m":81.1,"lo":78.0,"hi":84.2},
      {"p":"4↔2","d":"asc","x":550,"m":79.3,"lo":76.2,"hi":82.4},
      {"p":"4↔2","d":"asc","x":600,"m":77.5,"lo":75.2,"hi":79.8},
      {"p":"4↔2","d":"asc","x":650,"m":76.2,"lo":73.5,"hi":78.9},
      {"p":"4↔2","d":"asc","x":700,"m":75.3,"lo":72.2,"hi":78.4},
      {"p":"4↔2","d":"asc","x":750,"m":76.2,"lo":72.2,"hi":80.2},
      {"p":"4↔2","d":"asc","x":800,"m":75.8,"lo":71.8,"hi":79.8},
      {"p":"4↔2","d":"asc","x":850,"m":73.4,"lo":69.8,"hi":77.0},
      {"p":"4↔2","d":"asc","x":900,"m":74.0,"lo":70.0,"hi":78.0},
      {"p":"4↔2","d":"asc","x":950,"m":73.7,"lo":69.4,"hi":78.0},
      {"p":"4↔2","d":"asc","x":1000,"m":73.4,"lo":68.8,"hi":78.0},
      {"p":"4↔2","d":"asc","x":1050,"m":73.8,"lo":69.6,"hi":78.0},
      {"p":"4↔2","d":"asc","x":1100,"m":73.7,"lo":69.4,"hi":78.0},
      {"p":"4↔2","d":"asc","x":1150,"m":73.8,"lo":69.6,"hi":78.0},
      {"p":"4↔2","d":"asc","x":1200,"m":74.0,"lo":69.5,"hi":78.5},

      {"p":"4↔3","d":"desc","x":50,"m":50.5,"lo":49.0,"hi":52.0},
      {"p":"4↔3","d":"desc","x":100,"m":51.7,"lo":49.2,"hi":54.2},
      {"p":"4↔3","d":"desc","x":150,"m":61.0,"lo":56.0,"hi":66.0},
      {"p":"4↔3","d":"desc","x":200,"m":63.3,"lo":58.3,"hi":68.3},
      {"p":"4↔3","d":"desc","x":250,"m":62.4,"lo":57.4,"hi":67.4},
      {"p":"4↔3","d":"desc","x":300,"m":66.4,"lo":61.4,"hi":71.4},
      {"p":"4↔3","d":"desc","x":350,"m":69.0,"lo":64.0,"hi":74.0},
      {"p":"4↔3","d":"desc","x":400,"m":65.5,"lo":60.5,"hi":70.5},
      {"p":"4↔3","d":"desc","x":450,"m":66.4,"lo":61.4,"hi":71.4},
      {"p":"4↔3","d":"desc","x":500,"m":69.0,"lo":64.0,"hi":74.0},
      {"p":"4↔3","d":"desc","x":550,"m":66.4,"lo":61.4,"hi":71.4},
      {"p":"4↔3","d":"desc","x":600,"m":66.4,"lo":61.4,"hi":71.4},
      {"p":"4↔3","d":"desc","x":650,"m":70.0,"lo":65.0,"hi":75.0},
      {"p":"4↔3","d":"desc","x":700,"m":70.4,"lo":65.4,"hi":75.4},
      {"p":"4↔3","d":"desc","x":750,"m":71.3,"lo":66.3,"hi":76.3},
      {"p":"4↔3","d":"desc","x":800,"m":71.7,"lo":66.7,"hi":76.7},
      {"p":"4↔3","d":"desc","x":850,"m":72.6,"lo":67.6,"hi":77.6},
      {"p":"4↔3","d":"desc","x":900,"m":71.3,"lo":66.3,"hi":76.3},
      {"p":"4↔3","d":"desc","x":950,"m":73.1,"lo":68.1,"hi":78.1},
      {"p":"4↔3","d":"desc","x":1000,"m":73.4,"lo":68.4,"hi":78.4},
      {"p":"4↔3","d":"desc","x":1050,"m":75.0,"lo":70.0,"hi":80.0},
      {"p":"4↔3","d":"desc","x":1100,"m":74.6,"lo":69.6,"hi":79.6},
      {"p":"4↔3","d":"desc","x":1150,"m":73.8,"lo":68.8,"hi":78.8},
      {"p":"4↔3","d":"desc","x":1200,"m":74.5,"lo":69.5,"hi":79.5},
      {"p":"4↔3","d":"asc","x":50,"m":50.2,"lo":48.4,"hi":52.0},
      {"p":"4↔3","d":"asc","x":100,"m":50.5,"lo":47.0,"hi":54.0},
      {"p":"4↔3","d":"asc","x":150,"m":62.0,"lo":54.0,"hi":70.0},
      {"p":"4↔3","d":"asc","x":200,"m":75.5,"lo":69.0,"hi":82.0},
      {"p":"4↔3","d":"asc","x":250,"m":76.2,"lo":72.6,"hi":79.8},
      {"p":"4↔3","d":"asc","x":300,"m":75.3,"lo":71.3,"hi":79.3},
      {"p":"4↔3","d":"asc","x":350,"m":74.0,"lo":71.4,"hi":76.6},
      {"p":"4↔3","d":"asc","x":400,"m":74.9,"lo":69.8,"hi":80.0},
      {"p":"4↔3","d":"asc","x":450,"m":74.0,"lo":71.4,"hi":76.6},
      {"p":"4↔3","d":"asc","x":500,"m":74.0,"lo":69.6,"hi":78.4},
      {"p":"4↔3","d":"asc","x":550,"m":72.6,"lo":66.8,"hi":78.4},
      {"p":"4↔3","d":"asc","x":600,"m":74.0,"lo":70.0,"hi":78.0},
      {"p":"4↔3","d":"asc","x":650,"m":72.5,"lo":68.0,"hi":77.0},
      {"p":"4↔3","d":"asc","x":700,"m":72.0,"lo":67.0,"hi":77.0},
      {"p":"4↔3","d":"asc","x":750,"m":72.2,"lo":66.4,"hi":78.0},
      {"p":"4↔3","d":"asc","x":800,"m":72.6,"lo":67.2,"hi":78.0},
      {"p":"4↔3","d":"asc","x":850,"m":73.1,"lo":68.2,"hi":78.0},
      {"p":"4↔3","d":"asc","x":900,"m":70.9,"lo":64.8,"hi":77.0},
      {"p":"4↔3","d":"asc","x":950,"m":70.6,"lo":64.2,"hi":77.0},
      {"p":"4↔3","d":"asc","x":1000,"m":73.1,"lo":67.2,"hi":79.0},
      {"p":"4↔3","d":"asc","x":1050,"m":73.4,"lo":68.8,"hi":78.0},
      {"p":"4↔3","d":"asc","x":1100,"m":73.1,"lo":68.2,"hi":78.0},
      {"p":"4↔3","d":"asc","x":1150,"m":72.6,"lo":67.2,"hi":78.0},
      {"p":"4↔3","d":"asc","x":1200,"m":71.5,"lo":65.0,"hi":78.0},

      {"p":"5↔0","d":"desc","x":50,"m":50.0,"lo":48.5,"hi":51.5},
      {"p":"5↔0","d":"desc","x":100,"m":51.8,"lo":48.6,"hi":55.0},
      {"p":"5↔0","d":"desc","x":150,"m":59.4,"lo":55.5,"hi":63.3},
      {"p":"5↔0","d":"desc","x":200,"m":60.1,"lo":56.0,"hi":63.5},
      {"p":"5↔0","d":"desc","x":250,"m":61.6,"lo":57.6,"hi":65.5},
      {"p":"5↔0","d":"desc","x":300,"m":65.1,"lo":60.2,"hi":70.0},
      {"p":"5↔0","d":"desc","x":350,"m":66.9,"lo":61.1,"hi":72.7},
      {"p":"5↔0","d":"desc","x":400,"m":64.5,"lo":61.8,"hi":67.8},
      {"p":"5↔0","d":"desc","x":450,"m":69.8,"lo":64.2,"hi":75.4},
      {"p":"5↔0","d":"desc","x":500,"m":69.6,"lo":63.4,"hi":75.4},
      {"p":"5↔0","d":"desc","x":550,"m":70.2,"lo":64.6,"hi":75.6},
      {"p":"5↔0","d":"desc","x":600,"m":70.9,"lo":65.6,"hi":75.8},
      {"p":"5↔0","d":"desc","x":650,"m":76.7,"lo":70.9,"hi":82.5},
      {"p":"5↔0","d":"desc","x":700,"m":81.6,"lo":76.7,"hi":86.5},
      {"p":"5↔0","d":"desc","x":750,"m":81.6,"lo":76.7,"hi":86.5},
      {"p":"5↔0","d":"desc","x":800,"m":83.2,"lo":78.4,"hi":88.0},
      {"p":"5↔0","d":"desc","x":850,"m":94.9,"lo":89.8,"hi":100.0},
      {"p":"5↔0","d":"desc","x":900,"m":92.4,"lo":84.3,"hi":100.5},
      {"p":"5↔0","d":"desc","x":950,"m":94.5,"lo":88.5,"hi":100.5},
      {"p":"5↔0","d":"desc","x":1000,"m":90.5,"lo":82.3,"hi":98.7},
      {"p":"5↔0","d":"desc","x":1050,"m":66.5,"lo":34.5,"hi":98.5},
      {"p":"5↔0","d":"desc","x":1100,"m":56.2,"lo":30.4,"hi":82.0},
      {"p":"5↔0","d":"desc","x":1150,"m":26.9,"lo":-1.0,"hi":55.0},
      {"p":"5↔0","d":"desc","x":1200,"m":26.0,"lo":0.7,"hi":51.3},
      {"p":"5↔0","d":"asc","x":50,"m":49.8,"lo":48.5,"hi":51.0},
      {"p":"5↔0","d":"asc","x":100,"m":50.0,"lo":48.2,"hi":51.4},
      {"p":"5↔0","d":"asc","x":150,"m":48.2,"lo":45.1,"hi":50.5},
      {"p":"5↔0","d":"asc","x":200,"m":45.6,"lo":30.4,"hi":59.4},
      {"p":"5↔0","d":"asc","x":250,"m":42.9,"lo":30.8,"hi":55.7},
      {"p":"5↔0","d":"asc","x":300,"m":27.8,"lo":8.6,"hi":46.9},
      {"p":"5↔0","d":"asc","x":350,"m":29.5,"lo":0.5,"hi":58.5},
      {"p":"5↔0","d":"asc","x":400,"m":22.4,"lo":-2.0,"hi":47.0},
      {"p":"5↔0","d":"asc","x":450,"m":28.6,"lo":-1.0,"hi":56.0},
      {"p":"5↔0","d":"asc","x":500,"m":40.2,"lo":12.6,"hi":70.0},
      {"p":"5↔0","d":"asc","x":550,"m":59.8,"lo":18.0,"hi":101.0},
      {"p":"5↔0","d":"asc","x":600,"m":67.4,"lo":34.5,"hi":102.0},
      {"p":"5↔0","d":"asc","x":650,"m":84.3,"lo":64.7,"hi":104.0},
      {"p":"5↔0","d":"asc","x":700,"m":90.5,"lo":76.2,"hi":104.0},
      {"p":"5↔0","d":"asc","x":750,"m":91.9,"lo":80.0,"hi":104.0},
      {"p":"5↔0","d":"asc","x":800,"m":89.6,"lo":80.0,"hi":100.0},
      {"p":"5↔0","d":"asc","x":850,"m":84.3,"lo":75.0,"hi":95.0},
      {"p":"5↔0","d":"asc","x":900,"m":80.7,"lo":72.0,"hi":88.0},
      {"p":"5↔0","d":"asc","x":950,"m":78.5,"lo":71.0,"hi":86.0},
      {"p":"5↔0","d":"asc","x":1000,"m":75.8,"lo":69.0,"hi":82.0},
      {"p":"5↔0","d":"asc","x":1050,"m":73.1,"lo":67.0,"hi":79.0},
      {"p":"5↔0","d":"asc","x":1100,"m":70.5,"lo":64.5,"hi":77.3},
      {"p":"5↔0","d":"asc","x":1150,"m":69.1,"lo":63.5,"hi":75.0},
      {"p":"5↔0","d":"asc","x":1200,"m":66.5,"lo":62.0,"hi":70.0},

      {"p":"5↔1","d":"desc","x":50,"m":50.0,"lo":48.5,"hi":51.5},
      {"p":"5↔1","d":"desc","x":100,"m":51.8,"lo":48.6,"hi":55.0},
      {"p":"5↔1","d":"desc","x":150,"m":59.4,"lo":54.0,"hi":65.0},
      {"p":"5↔1","d":"desc","x":200,"m":60.1,"lo":55.0,"hi":65.0},
      {"p":"5↔1","d":"desc","x":250,"m":59.4,"lo":55.0,"hi":64.0},
      {"p":"5↔1","d":"desc","x":300,"m":64.9,"lo":59.8,"hi":70.0},
      {"p":"5↔1","d":"desc","x":350,"m":67.3,"lo":62.0,"hi":72.5},
      {"p":"5↔1","d":"desc","x":400,"m":63.8,"lo":59.8,"hi":68.0},
      {"p":"5↔1","d":"desc","x":450,"m":64.9,"lo":61.0,"hi":69.0},
      {"p":"5↔1","d":"desc","x":500,"m":66.5,"lo":61.0,"hi":72.0},
      {"p":"5↔1","d":"desc","x":550,"m":67.5,"lo":61.5,"hi":73.5},
      {"p":"5↔1","d":"desc","x":600,"m":68.4,"lo":61.5,"hi":75.8},
      {"p":"5↔1","d":"desc","x":650,"m":69.8,"lo":63.0,"hi":77.0},
      {"p":"5↔1","d":"desc","x":700,"m":72.2,"lo":67.0,"hi":78.0},
      {"p":"5↔1","d":"desc","x":750,"m":83.2,"lo":78.4,"hi":88.0},
      {"p":"5↔1","d":"desc","x":800,"m":80.9,"lo":75.8,"hi":87.0},
      {"p":"5↔1","d":"desc","x":850,"m":80.7,"lo":74.4,"hi":87.0},
      {"p":"5↔1","d":"desc","x":900,"m":81.8,"lo":75.6,"hi":88.0},
      {"p":"5↔1","d":"desc","x":950,"m":80.0,"lo":71.0,"hi":89.0},
      {"p":"5↔1","d":"desc","x":1000,"m":95.7,"lo":91.0,"hi":100.5},
      {"p":"5↔1","d":"desc","x":1050,"m":93.9,"lo":86.8,"hi":101.0},
      {"p":"5↔1","d":"desc","x":1100,"m":92.3,"lo":85.6,"hi":99.0},
      {"p":"5↔1","d":"desc","x":1150,"m":92.0,"lo":87.7,"hi":96.3},
      {"p":"5↔1","d":"desc","x":1200,"m":89.8,"lo":83.0,"hi":96.5},
      {"p":"5↔1","d":"asc","x":50,"m":50.2,"lo":49.2,"hi":51.0},
      {"p":"5↔1","d":"asc","x":100,"m":50.0,"lo":48.8,"hi":51.2},
      {"p":"5↔1","d":"asc","x":150,"m":48.7,"lo":46.0,"hi":51.0},
      {"p":"5↔1","d":"asc","x":200,"m":47.6,"lo":37.7,"hi":57.6},
      {"p":"5↔1","d":"asc","x":250,"m":43.5,"lo":35.0,"hi":52.3},
      {"p":"5↔1","d":"asc","x":300,"m":44.9,"lo":22.0,"hi":67.0},
      {"p":"5↔1","d":"asc","x":350,"m":49.4,"lo":20.6,"hi":72.7},
      {"p":"5↔1","d":"asc","x":400,"m":82.3,"lo":69.0,"hi":95.0},
      {"p":"5↔1","d":"asc","x":450,"m":80.3,"lo":60.0,"hi":100.0},
      {"p":"5↔1","d":"asc","x":500,"m":92.3,"lo":81.5,"hi":103.0},
      {"p":"5↔1","d":"asc","x":550,"m":96.3,"lo":89.5,"hi":103.0},
      {"p":"5↔1","d":"asc","x":600,"m":93.1,"lo":86.0,"hi":100.0},
      {"p":"5↔1","d":"asc","x":650,"m":88.2,"lo":82.4,"hi":94.0},
      {"p":"5↔1","d":"asc","x":700,"m":85.1,"lo":79.2,"hi":91.0},
      {"p":"5↔1","d":"asc","x":750,"m":81.8,"lo":77.0,"hi":86.5},
      {"p":"5↔1","d":"asc","x":800,"m":77.6,"lo":72.0,"hi":83.0},
      {"p":"5↔1","d":"asc","x":850,"m":75.8,"lo":70.5,"hi":81.0},
      {"p":"5↔1","d":"asc","x":900,"m":73.1,"lo":67.7,"hi":78.5},
      {"p":"5↔1","d":"asc","x":950,"m":71.8,"lo":66.6,"hi":77.0},
      {"p":"5↔1","d":"asc","x":1000,"m":69.6,"lo":63.7,"hi":75.5},
      {"p":"5↔1","d":"asc","x":1050,"m":68.4,"lo":62.8,"hi":74.0},
      {"p":"5↔1","d":"asc","x":1100,"m":67.3,"lo":62.1,"hi":72.5},
      {"p":"5↔1","d":"asc","x":1150,"m":67.2,"lo":61.9,"hi":72.5},
      {"p":"5↔1","d":"asc","x":1200,"m":67.2,"lo":62.0,"hi":72.5},

      {"p":"5↔2","d":"desc","x":50,"m":50.2,"lo":49.0,"hi":51.5},
      {"p":"5↔2","d":"desc","x":100,"m":51.8,"lo":49.6,"hi":54.0},
      {"p":"5↔2","d":"desc","x":150,"m":59.3,"lo":55.0,"hi":63.7},
      {"p":"5↔2","d":"desc","x":200,"m":60.0,"lo":57.0,"hi":63.5},
      {"p":"5↔2","d":"desc","x":250,"m":59.3,"lo":57.0,"hi":62.0},
      {"p":"5↔2","d":"desc","x":300,"m":62.6,"lo":59.0,"hi":66.0},
      {"p":"5↔2","d":"desc","x":350,"m":65.7,"lo":60.0,"hi":71.4},
      {"p":"5↔2","d":"desc","x":400,"m":63.4,"lo":59.0,"hi":68.0},
      {"p":"5↔2","d":"desc","x":450,"m":64.5,"lo":59.0,"hi":70.0},
      {"p":"5↔2","d":"desc","x":500,"m":64.2,"lo":59.0,"hi":69.0},
      {"p":"5↔2","d":"desc","x":550,"m":66.2,"lo":61.0,"hi":71.0},
      {"p":"5↔2","d":"desc","x":600,"m":64.5,"lo":59.2,"hi":69.0},
      {"p":"5↔2","d":"desc","x":650,"m":68.6,"lo":64.0,"hi":72.0},
      {"p":"5↔2","d":"desc","x":700,"m":68.1,"lo":61.6,"hi":74.0},
      {"p":"5↔2","d":"desc","x":750,"m":70.8,"lo":65.0,"hi":75.0},
      {"p":"5↔2","d":"desc","x":800,"m":71.7,"lo":66.0,"hi":76.0},
      {"p":"5↔2","d":"desc","x":850,"m":70.8,"lo":66.0,"hi":75.3},
      {"p":"5↔2","d":"desc","x":900,"m":72.4,"lo":67.0,"hi":77.6},
      {"p":"5↔2","d":"desc","x":950,"m":78.9,"lo":71.2,"hi":86.6},
      {"p":"5↔2","d":"desc","x":1000,"m":82.2,"lo":75.4,"hi":89.0},
      {"p":"5↔2","d":"desc","x":1050,"m":81.2,"lo":75.0,"hi":87.4},
      {"p":"5↔2","d":"desc","x":1100,"m":82.0,"lo":76.0,"hi":88.0},
      {"p":"5↔2","d":"desc","x":1150,"m":81.5,"lo":74.5,"hi":88.5},
      {"p":"5↔2","d":"desc","x":1200,"m":82.3,"lo":74.7,"hi":89.9},
      {"p":"5↔2","d":"asc","x":50,"m":50.2,"lo":49.4,"hi":51.0},
      {"p":"5↔2","d":"asc","x":100,"m":50.5,"lo":48.0,"hi":52.0},
      {"p":"5↔2","d":"asc","x":150,"m":52.8,"lo":46.2,"hi":60.0},
      {"p":"5↔2","d":"asc","x":200,"m":69.4,"lo":49.8,"hi":84.0},
      {"p":"5↔2","d":"asc","x":250,"m":89.0,"lo":76.8,"hi":100.0},
      {"p":"5↔2","d":"asc","x":300,"m":96.5,"lo":90.0,"hi":103.0},
      {"p":"5↔2","d":"asc","x":350,"m":91.5,"lo":86.0,"hi":97.0},
      {"p":"5↔2","d":"asc","x":400,"m":85.8,"lo":79.0,"hi":93.0},
      {"p":"5↔2","d":"asc","x":450,"m":83.3,"lo":77.0,"hi":90.0},
      {"p":"5↔2","d":"asc","x":500,"m":78.9,"lo":74.8,"hi":83.0},
      {"p":"5↔2","d":"asc","x":550,"m":76.8,"lo":72.6,"hi":81.0},
      {"p":"5↔2","d":"asc","x":600,"m":76.8,"lo":72.6,"hi":81.0},
      {"p":"5↔2","d":"asc","x":650,"m":74.0,"lo":69.0,"hi":79.0},
      {"p":"5↔2","d":"asc","x":700,"m":74.3,"lo":70.6,"hi":78.0},
      {"p":"5↔2","d":"asc","x":750,"m":71.4,"lo":66.8,"hi":76.0},
      {"p":"5↔2","d":"asc","x":800,"m":74.0,"lo":70.0,"hi":78.0},
      {"p":"5↔2","d":"asc","x":850,"m":73.2,"lo":68.4,"hi":78.0},
      {"p":"5↔2","d":"asc","x":900,"m":72.2,"lo":67.4,"hi":77.0},
      {"p":"5↔2","d":"asc","x":950,"m":71.4,"lo":66.8,"hi":76.0},
      {"p":"5↔2","d":"asc","x":1000,"m":71.4,"lo":66.8,"hi":76.0},
      {"p":"5↔2","d":"asc","x":1050,"m":71.6,"lo":68.2,"hi":75.0},
      {"p":"5↔2","d":"asc","x":1100,"m":72.7,"lo":68.9,"hi":76.5},
      {"p":"5↔2","d":"asc","x":1150,"m":71.9,"lo":68.3,"hi":75.5},
      {"p":"5↔2","d":"asc","x":1200,"m":71.9,"lo":67.8,"hi":76.0},

      {"p":"5↔3","d":"desc","x":50,"m":50.2,"lo":48.4,"hi":52.0},
      {"p":"5↔3","d":"desc","x":100,"m":51.8,"lo":48.6,"hi":55.0},
      {"p":"5↔3","d":"desc","x":150,"m":59.2,"lo":55.0,"hi":64.0},
      {"p":"5↔3","d":"desc","x":200,"m":60.1,"lo":56.0,"hi":64.0},
      {"p":"5↔3","d":"desc","x":250,"m":59.5,"lo":56.0,"hi":63.0},
      {"p":"5↔3","d":"desc","x":300,"m":62.5,"lo":58.0,"hi":67.0},
      {"p":"5↔3","d":"desc","x":350,"m":65.4,"lo":60.8,"hi":70.0},
      {"p":"5↔3","d":"desc","x":400,"m":62.2,"lo":58.4,"hi":66.0},
      {"p":"5↔3","d":"desc","x":450,"m":64.2,"lo":60.4,"hi":68.0},
      {"p":"5↔3","d":"desc","x":500,"m":64.2,"lo":60.4,"hi":68.0},
      {"p":"5↔3","d":"desc","x":550,"m":64.2,"lo":57.6,"hi":68.0},
      {"p":"5↔3","d":"desc","x":600,"m":64.7,"lo":60.4,"hi":69.0},
      {"p":"5↔3","d":"desc","x":650,"m":64.9,"lo":60.8,"hi":69.0},
      {"p":"5↔3","d":"desc","x":700,"m":64.9,"lo":60.8,"hi":69.0},
      {"p":"5↔3","d":"desc","x":750,"m":65.6,"lo":61.2,"hi":70.0},
      {"p":"5↔3","d":"desc","x":800,"m":66.3,"lo":61.6,"hi":71.0},
      {"p":"5↔3","d":"desc","x":850,"m":71.4,"lo":66.8,"hi":76.0},
      {"p":"5↔3","d":"desc","x":900,"m":70.5,"lo":64.5,"hi":76.5},
      {"p":"5↔3","d":"desc","x":950,"m":71.7,"lo":65.8,"hi":77.6},
      {"p":"5↔3","d":"desc","x":1000,"m":72.9,"lo":67.8,"hi":78.0},
      {"p":"5↔3","d":"desc","x":1050,"m":72.1,"lo":67.2,"hi":77.0},
      {"p":"5↔3","d":"desc","x":1100,"m":73.9,"lo":68.4,"hi":79.4},
      {"p":"5↔3","d":"desc","x":1150,"m":74.0,"lo":68.6,"hi":79.4},
      {"p":"5↔3","d":"desc","x":1200,"m":74.1,"lo":69.7,"hi":78.5},
      {"p":"5↔3","d":"asc","x":50,"m":50.2,"lo":48.4,"hi":52.0},
      {"p":"5↔3","d":"asc","x":100,"m":50.4,"lo":46.7,"hi":53.0},
      {"p":"5↔3","d":"asc","x":150,"m":62.9,"lo":55.8,"hi":70.0},
      {"p":"5↔3","d":"asc","x":200,"m":75.5,"lo":69.0,"hi":82.0},
      {"p":"5↔3","d":"asc","x":250,"m":76.2,"lo":71.4,"hi":81.0},
      {"p":"5↔3","d":"asc","x":300,"m":75.5,"lo":71.6,"hi":79.4},
      {"p":"5↔3","d":"asc","x":350,"m":74.3,"lo":71.9,"hi":76.7},
      {"p":"5↔3","d":"asc","x":400,"m":74.6,"lo":70.2,"hi":79.0},
      {"p":"5↔3","d":"asc","x":450,"m":70.5,"lo":67.0,"hi":74.0},
      {"p":"5↔3","d":"asc","x":500,"m":72.5,"lo":68.8,"hi":76.2},
      {"p":"5↔3","d":"asc","x":550,"m":69.1,"lo":65.2,"hi":73.0},
      {"p":"5↔3","d":"asc","x":600,"m":69.3,"lo":64.6,"hi":74.0},
      {"p":"5↔3","d":"asc","x":650,"m":69.8,"lo":65.1,"hi":74.5},
      {"p":"5↔3","d":"asc","x":700,"m":69.5,"lo":65.0,"hi":74.0},
      {"p":"5↔3","d":"asc","x":750,"m":71.4,"lo":66.8,"hi":76.0},
      {"p":"5↔3","d":"asc","x":800,"m":71.2,"lo":66.2,"hi":76.2},
      {"p":"5↔3","d":"asc","x":850,"m":69.0,"lo":64.0,"hi":74.0},
      {"p":"5↔3","d":"asc","x":900,"m":69.6,"lo":64.2,"hi":75.0},
      {"p":"5↔3","d":"asc","x":950,"m":70.5,"lo":66.0,"hi":75.0},
      {"p":"5↔3","d":"asc","x":1000,"m":69.1,"lo":64.2,"hi":74.0},
      {"p":"5↔3","d":"asc","x":1050,"m":69.6,"lo":64.2,"hi":75.0},
      {"p":"5↔3","d":"asc","x":1100,"m":70.5,"lo":66.0,"hi":75.0},
      {"p":"5↔3","d":"asc","x":1150,"m":70.5,"lo":66.0,"hi":75.0},
      {"p":"5↔3","d":"asc","x":1200,"m":70.0,"lo":65.0,"hi":75.0},

      {"p":"5↔4","d":"desc","x":50,"m":50.2,"lo":48.7,"hi":51.7},
      {"p":"5↔4","d":"desc","x":100,"m":51.8,"lo":49.3,"hi":54.3},
      {"p":"5↔4","d":"desc","x":150,"m":59.2,"lo":55.2,"hi":63.2},
      {"p":"5↔4","d":"desc","x":200,"m":60.1,"lo":56.1,"hi":64.1},
      {"p":"5↔4","d":"desc","x":250,"m":59.5,"lo":55.5,"hi":63.5},
      {"p":"5↔4","d":"desc","x":300,"m":62.5,"lo":58.0,"hi":67.0},
      {"p":"5↔4","d":"desc","x":350,"m":65.4,"lo":59.9,"hi":70.9},
      {"p":"5↔4","d":"desc","x":400,"m":62.2,"lo":58.2,"hi":66.2},
      {"p":"5↔4","d":"desc","x":450,"m":61.8,"lo":57.3,"hi":66.3},
      {"p":"5↔4","d":"desc","x":500,"m":63.3,"lo":58.8,"hi":67.8},
      {"p":"5↔4","d":"desc","x":550,"m":61.8,"lo":56.8,"hi":66.8},
      {"p":"5↔4","d":"desc","x":600,"m":62.9,"lo":57.9,"hi":67.9},
      {"p":"5↔4","d":"desc","x":650,"m":65.1,"lo":60.1,"hi":70.1},
      {"p":"5↔4","d":"desc","x":700,"m":66.0,"lo":60.5,"hi":71.5},
      {"p":"5↔4","d":"desc","x":750,"m":63.8,"lo":58.3,"hi":69.3},
      {"p":"5↔4","d":"desc","x":800,"m":66.9,"lo":61.9,"hi":71.9},
      {"p":"5↔4","d":"desc","x":850,"m":67.5,"lo":62.0,"hi":73.0},
      {"p":"5↔4","d":"desc","x":900,"m":66.2,"lo":60.7,"hi":71.7},
      {"p":"5↔4","d":"desc","x":950,"m":66.9,"lo":61.4,"hi":72.4},
      {"p":"5↔4","d":"desc","x":1000,"m":67.5,"lo":62.0,"hi":73.0},
      {"p":"5↔4","d":"desc","x":1050,"m":67.6,"lo":62.6,"hi":72.6},
      {"p":"5↔4","d":"desc","x":1100,"m":67.6,"lo":62.6,"hi":72.6},
      {"p":"5↔4","d":"desc","x":1150,"m":67.7,"lo":62.7,"hi":72.7},
      {"p":"5↔4","d":"desc","x":1200,"m":68.8,"lo":64.3,"hi":73.3},
      {"p":"5↔4","d":"asc","x":50,"m":50.2,"lo":48.7,"hi":51.7},
      {"p":"5↔4","d":"asc","x":100,"m":51.5,"lo":49.0,"hi":54.0},
      {"p":"5↔4","d":"asc","x":150,"m":61.1,"lo":55.1,"hi":67.1},
      {"p":"5↔4","d":"asc","x":200,"m":62.9,"lo":56.9,"hi":68.9},
      {"p":"5↔4","d":"asc","x":250,"m":62.5,"lo":57.5,"hi":67.5},
      {"p":"5↔4","d":"asc","x":300,"m":66.9,"lo":61.4,"hi":72.4},
      {"p":"5↔4","d":"asc","x":350,"m":68.5,"lo":63.5,"hi":73.5},
      {"p":"5↔4","d":"asc","x":400,"m":65.1,"lo":59.1,"hi":71.1},
      {"p":"5↔4","d":"asc","x":450,"m":66.0,"lo":60.5,"hi":71.5},
      {"p":"5↔4","d":"asc","x":500,"m":68.8,"lo":62.8,"hi":74.8},
      {"p":"5↔4","d":"asc","x":550,"m":66.6,"lo":61.6,"hi":71.6},
      {"p":"5↔4","d":"asc","x":600,"m":66.4,"lo":61.4,"hi":71.4},
      {"p":"5↔4","d":"asc","x":650,"m":65.1,"lo":60.1,"hi":70.1},
      {"p":"5↔4","d":"asc","x":700,"m":64.5,"lo":59.5,"hi":69.5},
      {"p":"5↔4","d":"asc","x":750,"m":64.2,"lo":59.2,"hi":69.2},
      {"p":"5↔4","d":"asc","x":800,"m":65.6,"lo":61.1,"hi":70.1},
      {"p":"5↔4","d":"asc","x":850,"m":65.6,"lo":61.1,"hi":70.1},
      {"p":"5↔4","d":"asc","x":900,"m":64.9,"lo":60.4,"hi":69.4},
      {"p":"5↔4","d":"asc","x":950,"m":66.0,"lo":61.5,"hi":70.5},
      {"p":"5↔4","d":"asc","x":1000,"m":66.0,"lo":61.5,"hi":70.5},
      {"p":"5↔4","d":"asc","x":1050,"m":66.3,"lo":62.3,"hi":70.3},
      {"p":"5↔4","d":"asc","x":1100,"m":66.5,"lo":62.5,"hi":70.5},
      {"p":"5↔4","d":"asc","x":1150,"m":66.3,"lo":62.3,"hi":70.3},
      {"p":"5↔4","d":"asc","x":1200,"m":66.9,"lo":62.9,"hi":70.9}
    ]
  },
  "resolve": {
    "scale": {"color": "shared", "strokeDash": "shared"},
    "legend": {"color": "shared", "strokeDash": "shared"}
  },
  "spacing": 87,
  "hconcat": [
    {
      "transform": [{"filter": "datum.p == '1↔0' || datum.p == '3↔2' || datum.p == '5↔0'"}],
      "title": {
        "text": "unseen_mismatch accuracy (%)",
        "orient": "left",
        "anchor": "middle",
        "font": "DejaVu Sans",
        "fontSize": 25,
        "fontWeight": "normal",
        "color": "#444444",
        "offset": 38,
        "dx": 84
      },
      "facet": {"field": "p", "type": "nominal", "sort": ["1↔0", "3↔2", "5↔0"], "header": {"title": null, "labels": false, "labelExpr": "''", "labelFontSize": 1, "labelPadding": 0}},
      "columns": 1,
      "bounds": "flush",
      "spacing": {"row": 136},
      "resolve": {"axis": {"x": "independent", "y": "independent"}},
      "spec": {
        "width": 488,
        "height": 375,
        "layer": [
          {
            "transform": [{"filter": "datum.d == 'desc'"}],
            "mark": {"type": "area", "color": "#2a78d6", "opacity": 0.13, "clip": true},
            "encoding": {
              "x": {"field": "x", "type": "quantitative", "scale": {"domain": [4, 1246], "nice": false, "zero": false}, "axis": {"values": [200, 400, 600, 800, 1000, 1200], "format": "d"}, "title": null},
              "y": {"field": "lo", "type": "quantitative", "scale": {"domain": [0, 100], "nice": false}, "axis": {"values": [0, 20, 40, 60, 80, 100], "format": "d"}, "title": null},
              "y2": {"field": "hi"}
            }
          },
          {
            "transform": [{"filter": "datum.d == 'asc'"}],
            "mark": {"type": "area", "color": "#e2484b", "opacity": 0.13, "clip": true},
            "encoding": {
              "x": {"field": "x", "type": "quantitative", "title": null},
              "y": {"field": "lo", "type": "quantitative", "title": null},
              "y2": {"field": "hi"}
            }
          },
          {
            "transform": [{"filter": "datum.x == 50 && datum.d == 'desc'"}],
            "mark": {"type": "rule", "color": "#bcb9ae", "strokeWidth": 2.5},
            "encoding": {"y": {"datum": 50, "type": "quantitative"}}
          },
          {
            "transform": [{"filter": "datum.x == 50 && datum.d == 'desc'"}],
            "mark": {"type": "text", "align": "left", "baseline": "alphabetic", "font": "DejaVu Sans", "fontSize": 27, "color": "black"},
            "encoding": {
              "x": {"datum": 4, "type": "quantitative"},
              "y": {"datum": 111, "type": "quantitative"},
              "text": {"field": "p", "type": "nominal"}
            }
          },
          {
            "mark": {"type": "line", "strokeWidth": 4.2, "clip": true},
            "encoding": {
              "x": {"field": "x", "type": "quantitative", "title": null},
              "y": {"field": "m", "type": "quantitative", "title": null},
              "color": {"field": "d", "type": "nominal", "scale": {"domain": ["desc", "asc"], "range": ["#2a78d6", "#e2484b"]}, "legend": {"title": null, "orient": "none", "legendX": 2441, "legendY": -291, "symbolType": "M-1.87,0H1.87", "labelExpr": "datum.label == 'desc' ? 'descending (high → low)' : 'ascending (low → high)'"}},
              "strokeDash": {"field": "d", "type": "nominal", "scale": {"domain": ["desc", "asc"], "range": [[1, 0], [16, 7]]}, "legend": {"title": null, "orient": "none", "legendX": 2441, "legendY": -291, "symbolType": "M-1.87,0H1.87", "labelExpr": "datum.label == 'desc' ? 'descending (high → low)' : 'ascending (low → high)'"}}
            }
          },
          {
            "transform": [
              {"joinaggregate": [{"op": "max", "field": "m", "as": "pk"}], "groupby": ["p", "d"]},
              {"filter": "datum.m == datum.pk && datum.d == 'desc'"}
            ],
            "mark": {"type": "circle", "size": 110, "opacity": 1, "fill": "#2a78d6", "stroke": "white", "strokeWidth": 2.2},
            "encoding": {
              "x": {"field": "x", "type": "quantitative", "title": null},
              "y": {"field": "m", "type": "quantitative", "title": null}
            }
          },
          {
            "transform": [
              {"joinaggregate": [{"op": "max", "field": "m", "as": "pk"}], "groupby": ["p", "d"]},
              {"filter": "datum.m == datum.pk && datum.d == 'asc'"}
            ],
            "mark": {"type": "circle", "size": 110, "opacity": 1, "fill": "#e2484b", "stroke": "white", "strokeWidth": 2.2},
            "encoding": {
              "x": {"field": "x", "type": "quantitative", "title": null},
              "y": {"field": "m", "type": "quantitative", "title": null}
            }
          },
          {
            "transform": [
              {"joinaggregate": [{"op": "max", "field": "m", "as": "pk"}], "groupby": ["p", "d"]},
              {"filter": "datum.m == datum.pk && datum.d == 'desc'"},
              {"calculate": "'peak ' + format(datum.m, '.1f')", "as": "lbl"}
            ],
            "mark": {"type": "text", "font": "DejaVu Sans", "fontSize": 17, "fontWeight": "bold", "color": "#444444", "dx": -65, "dy": -37},
            "encoding": {
              "x": {"field": "x", "type": "quantitative", "title": null},
              "y": {"field": "m", "type": "quantitative", "title": null},
              "text": {"field": "lbl", "type": "nominal"}
            }
          },
          {
            "transform": [
              {"joinaggregate": [{"op": "max", "field": "m", "as": "pk"}], "groupby": ["p", "d"]},
              {"filter": "datum.m == datum.pk && datum.d == 'asc' && datum.x < 1200"},
              {"calculate": "'peak ' + format(datum.m, '.1f')", "as": "lbl"}
            ],
            "mark": {"type": "text", "font": "DejaVu Sans", "fontSize": 17, "fontWeight": "bold", "color": "#444444", "dx": 65, "dy": 37},
            "encoding": {
              "x": {"field": "x", "type": "quantitative", "title": null},
              "y": {"field": "m", "type": "quantitative", "title": null},
              "text": {"field": "lbl", "type": "nominal"}
            }
          },
          {
            "transform": [
              {"joinaggregate": [{"op": "max", "field": "m", "as": "pk"}], "groupby": ["p", "d"]},
              {"filter": "datum.m == datum.pk && datum.d == 'asc' && datum.x >= 1200"},
              {"calculate": "'peak ' + format(datum.m, '.1f')", "as": "lbl"}
            ],
            "mark": {"type": "text", "font": "DejaVu Sans", "fontSize": 17, "fontWeight": "bold", "color": "#444444", "dx": -65, "dy": 37},
            "encoding": {
              "x": {"field": "x", "type": "quantitative", "title": null},
              "y": {"field": "m", "type": "quantitative", "title": null},
              "text": {"field": "lbl", "type": "nominal"}
            }
          }
        ]
      }
    },
    {
      "transform": [{"filter": "datum.p != '1↔0' && datum.p != '3↔2' && datum.p != '5↔0'"}],
      "title": {
        "text": "training iteration (waypoint)",
        "orient": "bottom",
        "anchor": "middle",
        "font": "DejaVu Sans",
        "fontSize": 25,
        "fontWeight": "normal",
        "color": "#444444",
        "offset": 60,
        "dx": -364
      },
      "facet": {"field": "p", "type": "nominal", "sort": ["2↔0", "2↔1", "3↔0", "3↔1", "4↔0", "4↔1", "4↔2", "4↔3", "5↔1", "5↔2", "5↔3", "5↔4"], "header": {"title": null, "labels": false, "labelExpr": "''", "labelFontSize": 1, "labelPadding": 0}},
      "columns": 4,
      "bounds": "flush",
      "spacing": {"row": 136, "column": 102},
      "resolve": {"axis": {"x": "independent", "y": "independent"}},
      "spec": {
        "width": 488,
        "height": 375,
        "layer": [
          {
            "transform": [{"filter": "datum.d == 'desc'"}],
            "mark": {"type": "area", "color": "#2a78d6", "opacity": 0.13, "clip": true},
            "encoding": {
              "x": {"field": "x", "type": "quantitative", "scale": {"domain": [4, 1246], "nice": false, "zero": false}, "axis": {"values": [200, 400, 600, 800, 1000, 1200], "format": "d"}, "title": null},
              "y": {"field": "lo", "type": "quantitative", "scale": {"domain": [0, 100], "nice": false}, "axis": {"values": [0, 20, 40, 60, 80, 100], "labels": false}, "title": null},
              "y2": {"field": "hi"}
            }
          },
          {
            "transform": [{"filter": "datum.d == 'asc'"}],
            "mark": {"type": "area", "color": "#e2484b", "opacity": 0.13, "clip": true},
            "encoding": {
              "x": {"field": "x", "type": "quantitative", "title": null},
              "y": {"field": "lo", "type": "quantitative", "title": null},
              "y2": {"field": "hi"}
            }
          },
          {
            "transform": [{"filter": "datum.x == 50 && datum.d == 'desc'"}],
            "mark": {"type": "rule", "color": "#bcb9ae", "strokeWidth": 2.5},
            "encoding": {"y": {"datum": 50, "type": "quantitative"}}
          },
          {
            "transform": [{"filter": "datum.x == 50 && datum.d == 'desc'"}],
            "mark": {"type": "text", "align": "left", "baseline": "alphabetic", "font": "DejaVu Sans", "fontSize": 27, "color": "black"},
            "encoding": {
              "x": {"datum": 4, "type": "quantitative"},
              "y": {"datum": 111, "type": "quantitative"},
              "text": {"field": "p", "type": "nominal"}
            }
          },
          {
            "mark": {"type": "line", "strokeWidth": 4.2, "clip": true},
            "encoding": {
              "x": {"field": "x", "type": "quantitative", "title": null},
              "y": {"field": "m", "type": "quantitative", "axis": {"values": [0, 20, 40, 60, 80, 100], "labels": false}, "title": null},
              "color": {"field": "d", "type": "nominal", "scale": {"domain": ["desc", "asc"], "range": ["#2a78d6", "#e2484b"]}, "legend": {"title": null, "orient": "none", "legendX": 2441, "legendY": -291, "symbolType": "M-1.87,0H1.87", "labelExpr": "datum.label == 'desc' ? 'descending (high → low)' : 'ascending (low → high)'"}},
              "strokeDash": {"field": "d", "type": "nominal", "scale": {"domain": ["desc", "asc"], "range": [[1, 0], [16, 7]]}, "legend": {"title": null, "orient": "none", "legendX": 2441, "legendY": -291, "symbolType": "M-1.87,0H1.87", "labelExpr": "datum.label == 'desc' ? 'descending (high → low)' : 'ascending (low → high)'"}}
            }
          },
          {
            "transform": [
              {"joinaggregate": [{"op": "max", "field": "m", "as": "pk"}], "groupby": ["p", "d"]},
              {"filter": "datum.m == datum.pk && datum.d == 'desc'"}
            ],
            "mark": {"type": "circle", "size": 110, "opacity": 1, "fill": "#2a78d6", "stroke": "white", "strokeWidth": 2.2},
            "encoding": {
              "x": {"field": "x", "type": "quantitative", "title": null},
              "y": {"field": "m", "type": "quantitative", "title": null}
            }
          },
          {
            "transform": [
              {"joinaggregate": [{"op": "max", "field": "m", "as": "pk"}], "groupby": ["p", "d"]},
              {"filter": "datum.m == datum.pk && datum.d == 'asc'"}
            ],
            "mark": {"type": "circle", "size": 110, "opacity": 1, "fill": "#e2484b", "stroke": "white", "strokeWidth": 2.2},
            "encoding": {
              "x": {"field": "x", "type": "quantitative", "title": null},
              "y": {"field": "m", "type": "quantitative", "title": null}
            }
          },
          {
            "transform": [
              {"joinaggregate": [{"op": "max", "field": "m", "as": "pk"}], "groupby": ["p", "d"]},
              {"filter": "datum.m == datum.pk && datum.d == 'desc'"},
              {"calculate": "'peak ' + format(datum.m, '.1f')", "as": "lbl"}
            ],
            "mark": {"type": "text", "font": "DejaVu Sans", "fontSize": 17, "fontWeight": "bold", "color": "#444444", "dx": -65, "dy": -37},
            "encoding": {
              "x": {"field": "x", "type": "quantitative", "title": null},
              "y": {"field": "m", "type": "quantitative", "title": null},
              "text": {"field": "lbl", "type": "nominal"}
            }
          },
          {
            "transform": [
              {"joinaggregate": [{"op": "max", "field": "m", "as": "pk"}], "groupby": ["p", "d"]},
              {"filter": "datum.m == datum.pk && datum.d == 'asc' && datum.x < 1200"},
              {"calculate": "'peak ' + format(datum.m, '.1f')", "as": "lbl"}
            ],
            "mark": {"type": "text", "font": "DejaVu Sans", "fontSize": 17, "fontWeight": "bold", "color": "#444444", "dx": 65, "dy": 37},
            "encoding": {
              "x": {"field": "x", "type": "quantitative", "title": null},
              "y": {"field": "m", "type": "quantitative", "title": null},
              "text": {"field": "lbl", "type": "nominal"}
            }
          }
        ]
      }
    }
  ],
  "config": {
    "font": "DejaVu Sans",
    "view": {"stroke": null},
    "axis": {
      "domainColor": "#b4b2a8",
      "domainWidth": 2.5,
      "tickColor": "#b4b2a8",
      "tickWidth": 2.5,
      "tickSize": 10,
      "labelFont": "DejaVu Sans",
      "labelFontSize": 17.5,
      "labelColor": "#808080",
      "gridColor": "#e3e1da",
      "gridWidth": 2,
      "labelFlush": false
    },
    "axisX": {"grid": false, "labelPadding": 7},
    "axisY": {"grid": true, "labelPadding": 6, "minExtent": 0},
    "legend": {
      "symbolSize": 900,
      "symbolStrokeWidth": 5,
      "symbolOffset": 12,
      "labelFont": "DejaVu Sans",
      "labelFontSize": 25,
      "labelColor": "#444444",
      "labelLimit": 0,
      "labelOffset": 30,
      "rowPadding": 6,
      "padding": 8,
      "strokeColor": "#dddbd3",
      "fillColor": "white",
      "cornerRadius": 6
    }
  }
}
